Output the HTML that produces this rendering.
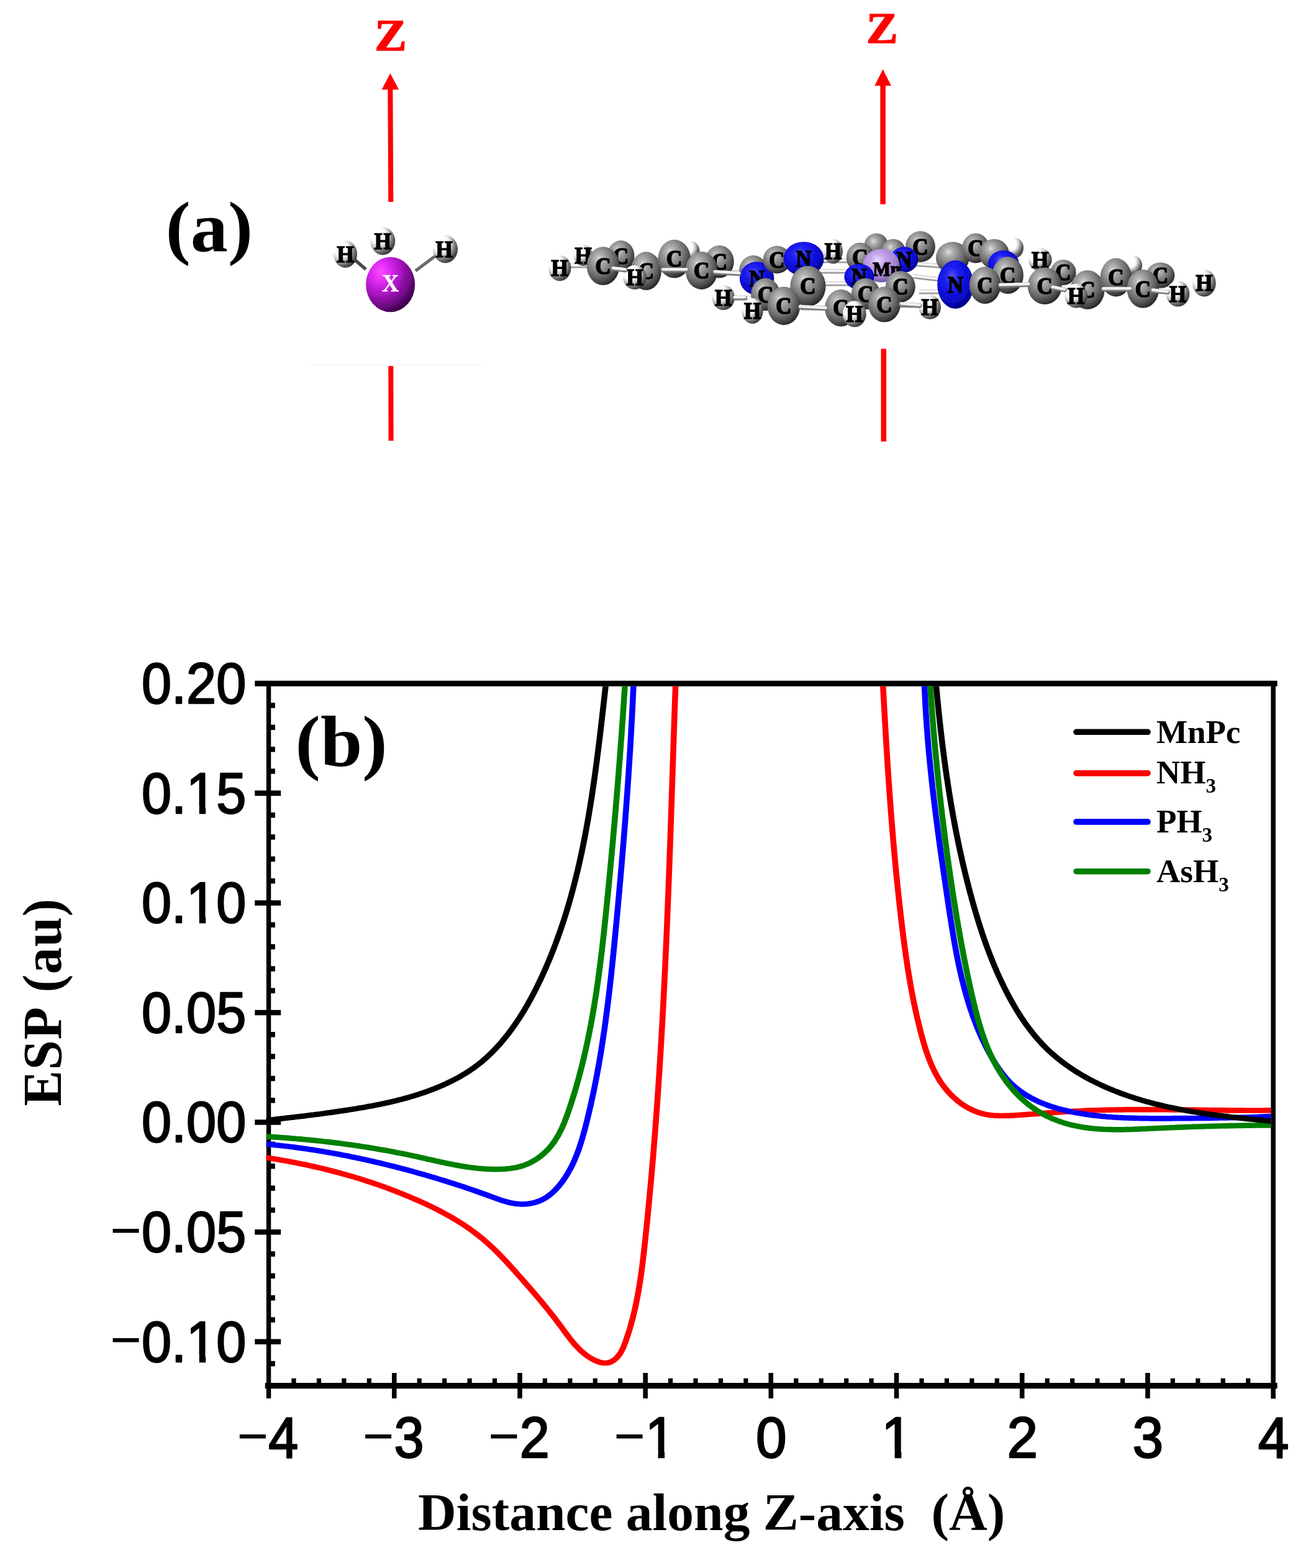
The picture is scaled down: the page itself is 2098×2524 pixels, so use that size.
<!DOCTYPE html>
<html lang="en"><head><meta charset="utf-8"><title>ESP along Z-axis</title>
<style>html,body{margin:0;padding:0;background:#fff}body{width:2098px;height:2524px;overflow:hidden}svg{display:block}.ser{font-family:"Liberation Serif",serif;font-weight:bold}.san{font-family:"Liberation Sans",sans-serif}</style></head><body>
<svg width="2098" height="2524" viewBox="0 0 2098 2524" role="img" aria-label="Electrostatic potential along the Z-axis">
<defs>
<radialGradient id="gC" cx="0.38" cy="0.32" r="0.72" fx="0.38" fy="0.32"><stop offset="0" stop-color="#e2e2e2"/><stop offset="0.16" stop-color="#b4b4b4"/><stop offset="0.42" stop-color="#8a8a8a"/><stop offset="0.68" stop-color="#626262"/><stop offset="0.88" stop-color="#3c3c3c"/><stop offset="1" stop-color="#1c1c1c"/></radialGradient>
<radialGradient id="gH" cx="0.32" cy="0.30" r="0.78" fx="0.32" fy="0.30"><stop offset="0" stop-color="#ffffff"/><stop offset="0.38" stop-color="#fdfdfd"/><stop offset="0.56" stop-color="#c6c6c6"/><stop offset="0.72" stop-color="#7c7c7c"/><stop offset="0.88" stop-color="#4a4a4a"/><stop offset="1" stop-color="#303030"/></radialGradient>
<radialGradient id="gN" cx="0.40" cy="0.34" r="0.70" fx="0.40" fy="0.34"><stop offset="0" stop-color="#5c5cff"/><stop offset="0.25" stop-color="#2222f4"/><stop offset="0.6" stop-color="#0c0cdc"/><stop offset="0.85" stop-color="#0505a8"/><stop offset="1" stop-color="#000070"/></radialGradient>
<radialGradient id="gMn" cx="0.40" cy="0.34" r="0.70" fx="0.40" fy="0.34"><stop offset="0" stop-color="#ead8ff"/><stop offset="0.3" stop-color="#c4a4ea"/><stop offset="0.7" stop-color="#a482d4"/><stop offset="1" stop-color="#6c4c9c"/></radialGradient>
<radialGradient id="gX" cx="0.30" cy="0.27" r="0.80" fx="0.30" fy="0.27"><stop offset="0" stop-color="#f64cff"/><stop offset="0.22" stop-color="#e22cf4"/><stop offset="0.48" stop-color="#b016c8"/><stop offset="0.74" stop-color="#780a8c"/><stop offset="1" stop-color="#360040"/></radialGradient>
<clipPath id="plot"><rect x="428.6" y="1104.6" width="1617.8" height="1121"/></clipPath>
<filter id="soft" x="-5%" y="-5%" width="110%" height="110%"><feGaussianBlur stdDeviation="0.7"/></filter>
<filter id="scan" filterUnits="userSpaceOnUse" x="0" y="0" width="2098" height="2524"><feGaussianBlur stdDeviation="0.75"/></filter>
</defs>
<g id="figure" filter="url(#scan)">
<rect width="2098" height="2524" fill="#ffffff"/>
<g id="panel-a">
<text class="ser" transform="translate(266.8,403.8) scale(1.06,1)" font-size="113.5" fill="#000">(a)</text>
<line x1="628.4" y1="143.3" x2="629.3" y2="324.9" stroke="#ff0000" stroke-width="8.0"/>
<polygon points="628.4,118.0 614.6,144.3 642.2,144.3" fill="#ff0000"/>
<line x1="1421.6" y1="137.1" x2="1421.6" y2="328.8" stroke="#ff0000" stroke-width="8.5"/>
<polygon points="1421.6,111.6 1408.3,138.1 1434.9,138.1" fill="#ff0000"/>
<line x1="500" y1="587.5" x2="776" y2="587.5" stroke="#f6f6f6" stroke-width="2"/>
<line x1="629.3" y1="589.3" x2="629.6" y2="709.6" stroke="#ff0000" stroke-width="8"/>
<line x1="1422.8" y1="561.4" x2="1422.8" y2="710.8" stroke="#ff0000" stroke-width="8.5"/>
<text class="ser" transform="translate(629.1,80.6) scale(1.09,1)" font-size="71" fill="#ff0000" stroke="#ff0000" stroke-width="1.5" text-anchor="middle">Z</text>
<text class="ser" transform="translate(1420.4,69.2) scale(1.10,1)" font-size="69" fill="#ff0000" stroke="#ff0000" stroke-width="1.5" text-anchor="middle">Z</text>
<g id="xh3" filter="url(#soft)">
<line x1="571" y1="418" x2="589" y2="433.5" stroke="#4a4a4a" stroke-width="5.5"/>
<line x1="669" y1="436" x2="703" y2="410.5" stroke="#686868" stroke-width="5"/>
<ellipse cx="556.0" cy="409.0" rx="19.0" ry="22.0" fill="url(#gH)"/>
<text class="ser" transform="translate(556.0,421.6) scale(1,1.08)" font-size="35" fill="#000" stroke="#000" stroke-width="1.6" text-anchor="middle">H</text>
<ellipse cx="616.3" cy="388.0" rx="20.0" ry="22.4" fill="url(#gH)"/>
<text class="ser" transform="translate(616.3,400.6) scale(1,1.08)" font-size="35" fill="#000" stroke="#000" stroke-width="1.6" text-anchor="middle">H</text>
<ellipse cx="717.0" cy="401.0" rx="20.0" ry="22.4" fill="url(#gH)"/>
<text class="ser" transform="translate(715.0,413.6) scale(1,1.08)" font-size="35" fill="#000" stroke="#000" stroke-width="1.6" text-anchor="middle">H</text>
<ellipse cx="628.6" cy="458.0" rx="39.5" ry="44.3" fill="url(#gX)"/>
<text class="ser" transform="translate(628.6,468.7) scale(1,1.08)" font-size="38" fill="#fff" stroke="#fff" stroke-width="0.3" text-anchor="middle">X</text>
</g>
<g id="mnpc" filter="url(#soft)">
<line x1="1310" y1="420" x2="1385" y2="420" stroke="#9a9a9a" stroke-width="7"/>
<line x1="1310" y1="419" x2="1385" y2="419" stroke="#f4f4f4" stroke-width="4"/>
<line x1="1310" y1="437" x2="1380" y2="437" stroke="#9a9a9a" stroke-width="7"/>
<line x1="1310" y1="436" x2="1380" y2="436" stroke="#f4f4f4" stroke-width="4"/>
<line x1="1320" y1="457" x2="1385" y2="457" stroke="#9a9a9a" stroke-width="7"/>
<line x1="1320" y1="456" x2="1385" y2="456" stroke="#f4f4f4" stroke-width="4"/>
<line x1="1290" y1="496" x2="1350" y2="496" stroke="#9a9a9a" stroke-width="7"/>
<line x1="1290" y1="495" x2="1350" y2="495" stroke="#f4f4f4" stroke-width="4"/>
<line x1="1470" y1="425" x2="1535" y2="430" stroke="#9a9a9a" stroke-width="7"/>
<line x1="1470" y1="424" x2="1535" y2="429" stroke="#f4f4f4" stroke-width="4"/>
<line x1="1470" y1="445" x2="1530" y2="452" stroke="#9a9a9a" stroke-width="7"/>
<line x1="1470" y1="444" x2="1530" y2="451" stroke="#f4f4f4" stroke-width="4"/>
<line x1="1480" y1="470" x2="1530" y2="470" stroke="#9a9a9a" stroke-width="7"/>
<line x1="1480" y1="469" x2="1530" y2="469" stroke="#f4f4f4" stroke-width="4"/>
<line x1="1120" y1="436" x2="1215" y2="440" stroke="#9a9a9a" stroke-width="7"/>
<line x1="1120" y1="435" x2="1215" y2="439" stroke="#f4f4f4" stroke-width="4"/>
<line x1="1640" y1="458" x2="1690" y2="460" stroke="#9a9a9a" stroke-width="7"/>
<line x1="1640" y1="457" x2="1690" y2="459" stroke="#f4f4f4" stroke-width="4"/>
<line x1="1770" y1="465" x2="1840" y2="465" stroke="#9a9a9a" stroke-width="7"/>
<line x1="1770" y1="464" x2="1840" y2="464" stroke="#f4f4f4" stroke-width="4"/>
<line x1="1050" y1="435" x2="1090" y2="433" stroke="#9a9a9a" stroke-width="7"/>
<line x1="1050" y1="434" x2="1090" y2="432" stroke="#f4f4f4" stroke-width="4"/>
<line x1="905" y1="428" x2="960" y2="428" stroke="#9a9a9a" stroke-width="7"/>
<line x1="905" y1="427" x2="960" y2="427" stroke="#f4f4f4" stroke-width="4"/>
<line x1="1180" y1="480" x2="1215" y2="480" stroke="#9a9a9a" stroke-width="7"/>
<line x1="1180" y1="479" x2="1215" y2="479" stroke="#f4f4f4" stroke-width="4"/>
<line x1="1445" y1="492" x2="1490" y2="492" stroke="#9a9a9a" stroke-width="7"/>
<line x1="1445" y1="491" x2="1490" y2="491" stroke="#f4f4f4" stroke-width="4"/>
<ellipse cx="901.2" cy="431.6" rx="18.3" ry="20.6" fill="url(#gH)"/>
<text class="ser" transform="translate(901.2,444.2) scale(1,1.08)" font-size="35" fill="#000" stroke="#000" stroke-width="1.6" text-anchor="middle">H</text>
<ellipse cx="939.0" cy="411.0" rx="15.0" ry="17.0" fill="url(#gH)"/>
<text class="ser" transform="translate(939.0,423.6) scale(1,1.08)" font-size="35" fill="#000" stroke="#000" stroke-width="1.6" text-anchor="middle">H</text>
<ellipse cx="999.7" cy="412.0" rx="21.8" ry="25.0" fill="url(#gC)"/>
<text class="ser" transform="translate(999.7,424.6) scale(1,1.08)" font-size="35" fill="#000" stroke="#000" stroke-width="1.6" text-anchor="middle">C</text>
<ellipse cx="971.1" cy="428.2" rx="26.3" ry="30.9" fill="url(#gC)"/>
<text class="ser" transform="translate(971.1,440.8) scale(1,1.08)" font-size="35" fill="#000" stroke="#000" stroke-width="1.6" text-anchor="middle">C</text>
<ellipse cx="1040.3" cy="436.2" rx="24.6" ry="30.9" fill="url(#gC)"/>
<text class="ser" transform="translate(1040.3,448.8) scale(1,1.08)" font-size="35" fill="#000" stroke="#000" stroke-width="1.6" text-anchor="middle">C</text>
<ellipse cx="1022.0" cy="446.5" rx="18.9" ry="19.5" fill="url(#gH)"/>
<text class="ser" transform="translate(1022.0,459.1) scale(1,1.08)" font-size="35" fill="#000" stroke="#000" stroke-width="1.6" text-anchor="middle">H</text>
<ellipse cx="1112.0" cy="404.0" rx="14.5" ry="16.0" fill="url(#gH)"/>
<ellipse cx="1085.7" cy="416.7" rx="26.3" ry="30.9" fill="url(#gC)"/>
<text class="ser" transform="translate(1085.7,429.3) scale(1,1.08)" font-size="35" fill="#000" stroke="#000" stroke-width="1.6" text-anchor="middle">C</text>
<ellipse cx="1158.3" cy="421.3" rx="23.5" ry="26.3" fill="url(#gC)"/>
<text class="ser" transform="translate(1158.3,433.9) scale(1,1.08)" font-size="35" fill="#000" stroke="#000" stroke-width="1.6" text-anchor="middle">C</text>
<ellipse cx="1129.6" cy="435.5" rx="25.8" ry="30.4" fill="url(#gC)"/>
<text class="ser" transform="translate(1129.6,448.1) scale(1,1.08)" font-size="35" fill="#000" stroke="#000" stroke-width="1.6" text-anchor="middle">C</text>
<ellipse cx="1164.7" cy="479.0" rx="18.3" ry="20.0" fill="url(#gH)"/>
<text class="ser" transform="translate(1164.7,491.6) scale(1,1.08)" font-size="35" fill="#000" stroke="#000" stroke-width="1.6" text-anchor="middle">H</text>
<ellipse cx="1213.0" cy="436.0" rx="23.0" ry="25.0" fill="url(#gC)"/>
<ellipse cx="1218.6" cy="448.1" rx="27.7" ry="26.9" fill="url(#gN)"/>
<text class="ser" transform="translate(1218.6,460.7) scale(1,1.08)" font-size="35" fill="#000" stroke="#000" stroke-width="1.6" text-anchor="middle">N</text>
<ellipse cx="1251.0" cy="418.0" rx="22.3" ry="22.3" fill="url(#gC)"/>
<text class="ser" transform="translate(1251.0,430.6) scale(1,1.08)" font-size="35" fill="#000" stroke="#000" stroke-width="1.6" text-anchor="middle">C</text>
<ellipse cx="1294.0" cy="416.7" rx="32.6" ry="27.5" fill="url(#gN)"/>
<text class="ser" transform="translate(1294.0,429.3) scale(1,1.08)" font-size="35" fill="#000" stroke="#000" stroke-width="1.6" text-anchor="middle">N</text>
<ellipse cx="1341.4" cy="404.6" rx="15.5" ry="20.0" fill="url(#gH)"/>
<text class="ser" transform="translate(1341.4,417.2) scale(1,1.08)" font-size="35" fill="#000" stroke="#000" stroke-width="1.6" text-anchor="middle">H</text>
<ellipse cx="1232.6" cy="474.0" rx="23.5" ry="26.3" fill="url(#gC)"/>
<text class="ser" transform="translate(1232.6,486.6) scale(1,1.08)" font-size="35" fill="#000" stroke="#000" stroke-width="1.6" text-anchor="middle">C</text>
<ellipse cx="1211.5" cy="500.4" rx="17.2" ry="20.6" fill="url(#gH)"/>
<text class="ser" transform="translate(1211.5,513.0) scale(1,1.08)" font-size="35" fill="#000" stroke="#000" stroke-width="1.6" text-anchor="middle">H</text>
<ellipse cx="1300.9" cy="460.7" rx="28.6" ry="32.6" fill="url(#gC)"/>
<text class="ser" transform="translate(1300.9,473.3) scale(1,1.08)" font-size="35" fill="#000" stroke="#000" stroke-width="1.6" text-anchor="middle">C</text>
<ellipse cx="1262.0" cy="492.3" rx="26.3" ry="30.9" fill="url(#gC)"/>
<text class="ser" transform="translate(1262.0,504.9) scale(1,1.08)" font-size="35" fill="#000" stroke="#000" stroke-width="1.6" text-anchor="middle">C</text>
<ellipse cx="1410.9" cy="395.5" rx="19.5" ry="20.0" fill="url(#gC)"/>
<ellipse cx="1385.0" cy="414.4" rx="22.3" ry="24.0" fill="url(#gC)"/>
<text class="ser" transform="translate(1385.0,427.0) scale(1,1.08)" font-size="35" fill="#000" stroke="#000" stroke-width="1.6" text-anchor="middle">C</text>
<ellipse cx="1438.4" cy="404.7" rx="19.5" ry="20.0" fill="url(#gC)"/>
<ellipse cx="1481.9" cy="397.0" rx="24.0" ry="25.0" fill="url(#gC)"/>
<text class="ser" transform="translate(1481.9,409.6) scale(1,1.08)" font-size="35" fill="#000" stroke="#000" stroke-width="1.6" text-anchor="middle">C</text>
<ellipse cx="1456.0" cy="417.9" rx="22.3" ry="20.6" fill="url(#gN)"/>
<text class="ser" transform="translate(1456.0,430.5) scale(1,1.08)" font-size="35" fill="#000" stroke="#000" stroke-width="1.6" text-anchor="middle">N</text>
<ellipse cx="1418.9" cy="427.6" rx="29.8" ry="26.9" fill="url(#gMn)"/>
<text class="ser" transform="translate(1427.9,444.4) scale(1,1.08)" font-size="30" fill="#000" stroke="#000" stroke-width="1.6" text-anchor="middle">Mn</text>
<ellipse cx="1383.4" cy="445.4" rx="24.0" ry="20.6" fill="url(#gN)"/>
<text class="ser" transform="translate(1383.4,458.0) scale(1,1.08)" font-size="35" fill="#000" stroke="#000" stroke-width="1.6" text-anchor="middle">N</text>
<ellipse cx="1449.8" cy="461.4" rx="24.0" ry="25.2" fill="url(#gC)"/>
<text class="ser" transform="translate(1449.8,474.0) scale(1,1.08)" font-size="35" fill="#000" stroke="#000" stroke-width="1.6" text-anchor="middle">C</text>
<ellipse cx="1393.7" cy="472.9" rx="22.9" ry="25.2" fill="url(#gC)"/>
<text class="ser" transform="translate(1393.7,485.5) scale(1,1.08)" font-size="35" fill="#000" stroke="#000" stroke-width="1.6" text-anchor="middle">C</text>
<ellipse cx="1354.0" cy="495.8" rx="25.8" ry="29.8" fill="url(#gC)"/>
<text class="ser" transform="translate(1354.0,508.4) scale(1,1.08)" font-size="35" fill="#000" stroke="#000" stroke-width="1.6" text-anchor="middle">C</text>
<ellipse cx="1423.9" cy="490.0" rx="25.8" ry="28.6" fill="url(#gC)"/>
<text class="ser" transform="translate(1423.9,502.6) scale(1,1.08)" font-size="35" fill="#000" stroke="#000" stroke-width="1.6" text-anchor="middle">C</text>
<ellipse cx="1375.8" cy="505.4" rx="18.9" ry="21.2" fill="url(#gH)"/>
<text class="ser" transform="translate(1375.8,518.0) scale(1,1.08)" font-size="35" fill="#000" stroke="#000" stroke-width="1.6" text-anchor="middle">H</text>
<ellipse cx="1497.2" cy="494.6" rx="17.8" ry="19.5" fill="url(#gH)"/>
<text class="ser" transform="translate(1497.2,507.2) scale(1,1.08)" font-size="35" fill="#000" stroke="#000" stroke-width="1.6" text-anchor="middle">H</text>
<ellipse cx="1533.8" cy="415.0" rx="26.9" ry="25.8" fill="url(#gC)"/>
<ellipse cx="1538.4" cy="458.0" rx="29.2" ry="39.0" fill="url(#gN)"/>
<text class="ser" transform="translate(1538.4,470.6) scale(1,1.08)" font-size="35" fill="#000" stroke="#000" stroke-width="1.6" text-anchor="middle">N</text>
<ellipse cx="1571.0" cy="399.5" rx="21.8" ry="24.0" fill="url(#gC)"/>
<text class="ser" transform="translate(1571.0,412.1) scale(1,1.08)" font-size="35" fill="#000" stroke="#000" stroke-width="1.6" text-anchor="middle">C</text>
<ellipse cx="1633.0" cy="399.0" rx="15.0" ry="16.5" fill="url(#gH)"/>
<ellipse cx="1600.9" cy="408.7" rx="24.0" ry="24.0" fill="url(#gC)"/>
<ellipse cx="1615.8" cy="425.0" rx="25.0" ry="22.0" fill="url(#gN)"/>
<ellipse cx="1622.7" cy="443.1" rx="25.2" ry="29.8" fill="url(#gC)"/>
<text class="ser" transform="translate(1622.7,455.7) scale(1,1.08)" font-size="35" fill="#000" stroke="#000" stroke-width="1.6" text-anchor="middle">C</text>
<ellipse cx="1586.0" cy="459.1" rx="25.2" ry="29.8" fill="url(#gC)"/>
<text class="ser" transform="translate(1586.0,471.7) scale(1,1.08)" font-size="35" fill="#000" stroke="#000" stroke-width="1.6" text-anchor="middle">C</text>
<ellipse cx="1674.7" cy="417.9" rx="18.9" ry="18.3" fill="url(#gH)"/>
<text class="ser" transform="translate(1674.7,430.5) scale(1,1.08)" font-size="35" fill="#000" stroke="#000" stroke-width="1.6" text-anchor="middle">H</text>
<ellipse cx="1712.0" cy="438.5" rx="20.6" ry="20.6" fill="url(#gC)"/>
<text class="ser" transform="translate(1712.0,451.1) scale(1,1.08)" font-size="35" fill="#000" stroke="#000" stroke-width="1.6" text-anchor="middle">C</text>
<ellipse cx="1682.2" cy="460.3" rx="27.5" ry="29.8" fill="url(#gC)"/>
<text class="ser" transform="translate(1682.2,472.9) scale(1,1.08)" font-size="35" fill="#000" stroke="#000" stroke-width="1.6" text-anchor="middle">C</text>
<ellipse cx="1751.0" cy="466.5" rx="27.5" ry="31.5" fill="url(#gC)"/>
<text class="ser" transform="translate(1751.0,479.1) scale(1,1.08)" font-size="35" fill="#000" stroke="#000" stroke-width="1.6" text-anchor="middle">C</text>
<ellipse cx="1732.6" cy="476.3" rx="18.3" ry="19.5" fill="url(#gH)"/>
<text class="ser" transform="translate(1732.6,488.9) scale(1,1.08)" font-size="35" fill="#000" stroke="#000" stroke-width="1.6" text-anchor="middle">H</text>
<ellipse cx="1825.0" cy="427.0" rx="14.0" ry="15.5" fill="url(#gH)"/>
<ellipse cx="1796.8" cy="446.5" rx="25.2" ry="30.9" fill="url(#gC)"/>
<text class="ser" transform="translate(1796.8,459.1) scale(1,1.08)" font-size="35" fill="#000" stroke="#000" stroke-width="1.6" text-anchor="middle">C</text>
<ellipse cx="1868.5" cy="443.1" rx="22.9" ry="20.6" fill="url(#gC)"/>
<text class="ser" transform="translate(1868.5,455.7) scale(1,1.08)" font-size="35" fill="#000" stroke="#000" stroke-width="1.6" text-anchor="middle">C</text>
<ellipse cx="1840.3" cy="464.9" rx="25.8" ry="30.9" fill="url(#gC)"/>
<text class="ser" transform="translate(1840.3,477.5) scale(1,1.08)" font-size="35" fill="#000" stroke="#000" stroke-width="1.6" text-anchor="middle">C</text>
<ellipse cx="1896.4" cy="472.9" rx="18.9" ry="20.6" fill="url(#gH)"/>
<text class="ser" transform="translate(1896.4,485.5) scale(1,1.08)" font-size="35" fill="#000" stroke="#000" stroke-width="1.6" text-anchor="middle">H</text>
<ellipse cx="1938.8" cy="455.7" rx="18.9" ry="21.8" fill="url(#gH)"/>
<text class="ser" transform="translate(1938.8,468.3) scale(1,1.08)" font-size="35" fill="#000" stroke="#000" stroke-width="1.6" text-anchor="middle">H</text>
<line x1="1610.5" y1="459.4" x2="1656.2" y2="458.2" stroke="#7a7a7a" stroke-width="7.5" stroke-linecap="round"/>
<line x1="1610.5" y1="458.2" x2="1656.2" y2="457.0" stroke="#f2f2f2" stroke-width="4.6" stroke-linecap="round"/>
<line x1="1694.7" y1="463.0" x2="1714.0" y2="466.6" stroke="#7a7a7a" stroke-width="7.5" stroke-linecap="round"/>
<line x1="1694.7" y1="461.8" x2="1714.0" y2="465.4" stroke="#f2f2f2" stroke-width="4.6" stroke-linecap="round"/>
<line x1="1776.5" y1="465.4" x2="1819.8" y2="465.4" stroke="#7a7a7a" stroke-width="7.5" stroke-linecap="round"/>
<line x1="1776.5" y1="464.2" x2="1819.8" y2="464.2" stroke="#f2f2f2" stroke-width="4.6" stroke-linecap="round"/>
<line x1="1855.9" y1="467.8" x2="1880.0" y2="470.3" stroke="#7a7a7a" stroke-width="7.5" stroke-linecap="round"/>
<line x1="1855.9" y1="466.6" x2="1880.0" y2="469.1" stroke="#f2f2f2" stroke-width="4.6" stroke-linecap="round"/>
<line x1="987.1" y1="432.4" x2="1006.6" y2="434.7" stroke="#7a7a7a" stroke-width="7.5" stroke-linecap="round"/>
<line x1="987.1" y1="431.2" x2="1006.6" y2="433.5" stroke="#f2f2f2" stroke-width="4.6" stroke-linecap="round"/>
<line x1="1067.3" y1="434.7" x2="1105.1" y2="434.7" stroke="#7a7a7a" stroke-width="7.5" stroke-linecap="round"/>
<line x1="1067.3" y1="433.5" x2="1105.1" y2="433.5" stroke="#f2f2f2" stroke-width="4.6" stroke-linecap="round"/>
<line x1="1151.0" y1="438.2" x2="1189.9" y2="440.5" stroke="#7a7a7a" stroke-width="7.5" stroke-linecap="round"/>
<line x1="1151.0" y1="437.0" x2="1189.9" y2="439.3" stroke="#f2f2f2" stroke-width="4.6" stroke-linecap="round"/>
<line x1="1183.0" y1="479.4" x2="1199.0" y2="479.4" stroke="#7a7a7a" stroke-width="7.5" stroke-linecap="round"/>
<line x1="1183.0" y1="478.2" x2="1199.0" y2="478.2" stroke="#f2f2f2" stroke-width="4.6" stroke-linecap="round"/>
<line x1="1288.3" y1="494.3" x2="1329.5" y2="496.6" stroke="#7a7a7a" stroke-width="7.5" stroke-linecap="round"/>
<line x1="1288.3" y1="493.1" x2="1329.5" y2="495.4" stroke="#f2f2f2" stroke-width="4.6" stroke-linecap="round"/>
<line x1="1451.0" y1="489.7" x2="1480.7" y2="492.0" stroke="#7a7a7a" stroke-width="7.5" stroke-linecap="round"/>
<line x1="1451.0" y1="488.5" x2="1480.7" y2="490.8" stroke="#f2f2f2" stroke-width="4.6" stroke-linecap="round"/>
</g>
</g>
<g id="panel-b">
<g stroke="#000" fill="none">
<line x1="410.3" y1="1100.2" x2="2056.6" y2="1100.2" stroke-width="9"/>
<line x1="426.8" y1="2230.6" x2="2056.6" y2="2230.6" stroke-width="9.3"/>
<line x1="432.6" y1="1100.2" x2="432.6" y2="2251" stroke-width="7.4"/>
<line x1="2050.1" y1="1100.2" x2="2050.1" y2="2251.4" stroke-width="7.6"/>
<line x1="432.6" y1="2195.1" x2="442.9" y2="2195.1" stroke-width="8.5"/>
<line x1="410.3" y1="2159.8" x2="452.2" y2="2159.8" stroke-width="8.5"/>
<line x1="432.6" y1="2124.5" x2="442.9" y2="2124.5" stroke-width="8.5"/>
<line x1="432.6" y1="2089.2" x2="442.9" y2="2089.2" stroke-width="8.5"/>
<line x1="432.6" y1="2053.8" x2="442.9" y2="2053.8" stroke-width="8.5"/>
<line x1="432.6" y1="2018.5" x2="442.9" y2="2018.5" stroke-width="8.5"/>
<line x1="410.3" y1="1983.2" x2="452.2" y2="1983.2" stroke-width="8.5"/>
<line x1="432.6" y1="1947.9" x2="442.9" y2="1947.9" stroke-width="8.5"/>
<line x1="432.6" y1="1912.6" x2="442.9" y2="1912.6" stroke-width="8.5"/>
<line x1="432.6" y1="1877.2" x2="442.9" y2="1877.2" stroke-width="8.5"/>
<line x1="432.6" y1="1841.9" x2="442.9" y2="1841.9" stroke-width="8.5"/>
<line x1="410.3" y1="1806.6" x2="452.2" y2="1806.6" stroke-width="8.5"/>
<line x1="432.6" y1="1771.3" x2="442.9" y2="1771.3" stroke-width="8.5"/>
<line x1="432.6" y1="1736.0" x2="442.9" y2="1736.0" stroke-width="8.5"/>
<line x1="432.6" y1="1700.6" x2="442.9" y2="1700.6" stroke-width="8.5"/>
<line x1="432.6" y1="1665.3" x2="442.9" y2="1665.3" stroke-width="8.5"/>
<line x1="410.3" y1="1630.0" x2="452.2" y2="1630.0" stroke-width="8.5"/>
<line x1="432.6" y1="1594.7" x2="442.9" y2="1594.7" stroke-width="8.5"/>
<line x1="432.6" y1="1559.4" x2="442.9" y2="1559.4" stroke-width="8.5"/>
<line x1="432.6" y1="1524.0" x2="442.9" y2="1524.0" stroke-width="8.5"/>
<line x1="432.6" y1="1488.7" x2="442.9" y2="1488.7" stroke-width="8.5"/>
<line x1="410.3" y1="1453.4" x2="452.2" y2="1453.4" stroke-width="8.5"/>
<line x1="432.6" y1="1418.1" x2="442.9" y2="1418.1" stroke-width="8.5"/>
<line x1="432.6" y1="1382.8" x2="442.9" y2="1382.8" stroke-width="8.5"/>
<line x1="432.6" y1="1347.4" x2="442.9" y2="1347.4" stroke-width="8.5"/>
<line x1="432.6" y1="1312.1" x2="442.9" y2="1312.1" stroke-width="8.5"/>
<line x1="410.3" y1="1276.8" x2="452.2" y2="1276.8" stroke-width="8.5"/>
<line x1="432.6" y1="1241.5" x2="442.9" y2="1241.5" stroke-width="8.5"/>
<line x1="432.6" y1="1206.2" x2="442.9" y2="1206.2" stroke-width="8.5"/>
<line x1="432.6" y1="1170.8" x2="442.9" y2="1170.8" stroke-width="8.5"/>
<line x1="432.6" y1="1135.5" x2="442.9" y2="1135.5" stroke-width="8.5"/>
<line x1="473.0" y1="2218.7" x2="473.0" y2="2230.6" stroke-width="7.2"/>
<line x1="513.5" y1="2218.7" x2="513.5" y2="2230.6" stroke-width="7.2"/>
<line x1="553.9" y1="2218.7" x2="553.9" y2="2230.6" stroke-width="7.2"/>
<line x1="594.4" y1="2218.7" x2="594.4" y2="2230.6" stroke-width="7.2"/>
<line x1="634.8" y1="2210" x2="634.8" y2="2251" stroke-width="7.6"/>
<line x1="675.2" y1="2218.7" x2="675.2" y2="2230.6" stroke-width="7.2"/>
<line x1="715.7" y1="2218.7" x2="715.7" y2="2230.6" stroke-width="7.2"/>
<line x1="756.1" y1="2218.7" x2="756.1" y2="2230.6" stroke-width="7.2"/>
<line x1="796.5" y1="2218.7" x2="796.5" y2="2230.6" stroke-width="7.2"/>
<line x1="837.0" y1="2210" x2="837.0" y2="2251" stroke-width="7.6"/>
<line x1="877.4" y1="2218.7" x2="877.4" y2="2230.6" stroke-width="7.2"/>
<line x1="917.9" y1="2218.7" x2="917.9" y2="2230.6" stroke-width="7.2"/>
<line x1="958.3" y1="2218.7" x2="958.3" y2="2230.6" stroke-width="7.2"/>
<line x1="998.7" y1="2218.7" x2="998.7" y2="2230.6" stroke-width="7.2"/>
<line x1="1039.2" y1="2210" x2="1039.2" y2="2251" stroke-width="7.6"/>
<line x1="1079.6" y1="2218.7" x2="1079.6" y2="2230.6" stroke-width="7.2"/>
<line x1="1120.0" y1="2218.7" x2="1120.0" y2="2230.6" stroke-width="7.2"/>
<line x1="1160.5" y1="2218.7" x2="1160.5" y2="2230.6" stroke-width="7.2"/>
<line x1="1200.9" y1="2218.7" x2="1200.9" y2="2230.6" stroke-width="7.2"/>
<line x1="1241.3" y1="2210" x2="1241.3" y2="2251" stroke-width="7.6"/>
<line x1="1281.8" y1="2218.7" x2="1281.8" y2="2230.6" stroke-width="7.2"/>
<line x1="1322.2" y1="2218.7" x2="1322.2" y2="2230.6" stroke-width="7.2"/>
<line x1="1362.7" y1="2218.7" x2="1362.7" y2="2230.6" stroke-width="7.2"/>
<line x1="1403.1" y1="2218.7" x2="1403.1" y2="2230.6" stroke-width="7.2"/>
<line x1="1443.5" y1="2210" x2="1443.5" y2="2251" stroke-width="7.6"/>
<line x1="1484.0" y1="2218.7" x2="1484.0" y2="2230.6" stroke-width="7.2"/>
<line x1="1524.4" y1="2218.7" x2="1524.4" y2="2230.6" stroke-width="7.2"/>
<line x1="1564.8" y1="2218.7" x2="1564.8" y2="2230.6" stroke-width="7.2"/>
<line x1="1605.3" y1="2218.7" x2="1605.3" y2="2230.6" stroke-width="7.2"/>
<line x1="1645.7" y1="2210" x2="1645.7" y2="2251" stroke-width="7.6"/>
<line x1="1686.2" y1="2218.7" x2="1686.2" y2="2230.6" stroke-width="7.2"/>
<line x1="1726.6" y1="2218.7" x2="1726.6" y2="2230.6" stroke-width="7.2"/>
<line x1="1767.0" y1="2218.7" x2="1767.0" y2="2230.6" stroke-width="7.2"/>
<line x1="1807.5" y1="2218.7" x2="1807.5" y2="2230.6" stroke-width="7.2"/>
<line x1="1847.9" y1="2210" x2="1847.9" y2="2251" stroke-width="7.6"/>
<line x1="1888.3" y1="2218.7" x2="1888.3" y2="2230.6" stroke-width="7.2"/>
<line x1="1928.8" y1="2218.7" x2="1928.8" y2="2230.6" stroke-width="7.2"/>
<line x1="1969.2" y1="2218.7" x2="1969.2" y2="2230.6" stroke-width="7.2"/>
<line x1="2009.7" y1="2218.7" x2="2009.7" y2="2230.6" stroke-width="7.2"/>
</g>
<g clip-path="url(#plot)"><g transform="scale(1.100,1)" fill="none" stroke-width="8.7" stroke-linejoin="round">
<path d="M384.05,1862.4 L389.44,1863.3 L394.83,1864.3 L400.20,1865.2 L405.58,1866.2 L410.95,1867.2 L416.31,1868.2 L421.66,1869.3 L427.01,1870.4 L432.36,1871.5 L437.69,1872.7 L443.02,1873.9 L448.35,1875.1 L453.66,1876.4 L458.97,1877.7 L464.27,1879.0 L469.56,1880.4 L474.85,1881.8 L480.12,1883.2 L485.39,1884.7 L490.65,1886.2 L495.90,1887.7 L501.14,1889.3 L506.37,1890.9 L511.60,1892.6 L516.81,1894.2 L522.01,1896.0 L527.21,1897.7 L532.39,1899.5 L537.56,1901.3 L542.72,1903.2 L547.87,1905.1 L553.01,1907.0 L558.14,1909.0 L563.26,1911.0 L568.36,1913.1 L573.46,1915.2 L578.54,1917.3 L583.61,1919.5 L588.66,1921.7 L593.71,1923.9 L598.74,1926.2 L603.76,1928.6 L608.76,1931.0 L613.75,1933.4 L618.72,1935.8 L623.68,1938.4 L628.61,1940.9 L633.51,1943.5 L638.39,1946.2 L643.24,1948.9 L648.06,1951.7 L652.85,1954.6 L657.60,1957.5 L662.31,1960.5 L666.98,1963.5 L671.61,1966.6 L676.19,1969.8 L680.73,1973.1 L685.21,1976.5 L689.64,1979.9 L694.02,1983.4 L698.33,1987.1 L702.59,1990.8 L706.79,1994.6 L710.92,1998.4 L714.99,2002.4 L719.00,2006.5 L722.96,2010.6 L726.87,2014.8 L730.74,2019.0 L734.55,2023.4 L738.33,2027.7 L742.07,2032.1 L745.78,2036.5 L749.45,2041.0 L753.10,2045.4 L756.73,2049.9 L760.33,2054.4 L763.92,2058.8 L767.49,2063.3 L771.05,2067.8 L774.59,2072.2 L778.12,2076.7 L781.63,2081.2 L785.12,2085.7 L788.60,2090.2 L792.06,2094.7 L795.50,2099.3 L798.92,2103.9 L802.33,2108.5 L805.71,2113.2 L809.08,2117.9 L812.43,2122.6 L815.76,2127.4 L819.07,2132.2 L822.37,2137.1 L825.66,2142.1 L828.97,2147.0 L832.32,2151.9 L835.74,2156.7 L839.24,2161.4 L842.86,2165.9 L846.60,2170.3 L850.49,2174.5 L854.56,2178.4 L858.83,2182.0 L863.31,2185.4 L868.03,2188.3 L873.00,2190.9 L878.15,2192.9 L883.35,2194.0 L888.46,2194.0 L893.34,2192.7 L897.85,2190.1 L901.94,2186.5 L905.56,2182.1 L908.68,2177.0 L911.27,2171.7 L913.45,2166.1 L915.39,2160.4 L917.22,2154.6 L918.97,2148.9 L920.64,2143.1 L922.23,2137.4 L923.74,2131.6 L925.18,2125.8 L926.55,2120.0 L927.86,2114.2 L929.10,2108.3 L930.28,2102.5 L931.40,2096.6 L932.47,2090.8 L933.49,2084.9 L934.45,2079.0 L935.37,2073.1 L936.25,2067.2 L937.08,2061.3 L937.88,2055.4 L938.64,2049.5 L939.37,2043.6 L940.07,2037.7 L940.75,2031.7 L941.40,2025.8 L942.03,2019.9 L942.64,2013.9 L943.24,2008.0 L943.83,2002.0 L944.41,1996.1 L944.98,1990.1 L945.55,1984.2 L946.11,1978.2 L946.66,1972.3 L947.21,1966.3 L947.75,1960.4 L948.29,1954.4 L948.82,1948.5 L949.35,1942.5 L949.87,1936.6 L950.38,1930.6 L950.89,1924.7 L951.40,1918.7 L951.90,1912.8 L952.39,1906.8 L952.88,1900.8 L953.36,1894.9 L953.84,1888.9 L954.32,1883.0 L954.78,1877.0 L955.25,1871.1 L955.71,1865.1 L956.16,1859.1 L956.61,1853.2 L957.05,1847.2 L957.49,1841.3 L957.92,1835.3 L958.35,1829.3 L958.78,1823.4 L959.20,1817.4 L959.61,1811.4 L960.02,1805.5 L960.43,1799.5 L960.83,1793.5 L961.23,1787.6 L961.62,1781.6 L962.01,1775.6 L962.39,1769.7 L962.77,1763.7 L963.14,1757.7 L963.51,1751.8 L963.88,1745.8 L964.24,1739.8 L964.60,1733.9 L964.96,1727.9 L965.31,1721.9 L965.65,1716.0 L966.00,1710.0 L966.33,1704.0 L966.67,1698.1 L967.00,1692.1 L967.33,1686.1 L967.65,1680.1 L967.97,1674.2 L968.28,1668.2 L968.60,1662.2 L968.91,1656.3 L969.21,1650.3 L969.51,1644.3 L969.81,1638.3 L970.11,1632.4 L970.40,1626.4 L970.69,1620.4 L970.97,1614.4 L971.26,1608.5 L971.53,1602.5 L971.81,1596.5 L972.08,1590.6 L972.35,1584.6 L972.62,1578.6 L972.89,1572.6 L973.15,1566.7 L973.41,1560.7 L973.66,1554.7 L973.92,1548.7 L974.17,1542.8 L974.42,1536.8 L974.66,1530.8 L974.91,1524.8 L975.15,1518.9 L975.39,1512.9 L975.62,1506.9 L975.86,1500.9 L976.09,1494.9 L976.32,1489.0 L976.55,1483.0 L976.77,1477.0 L976.99,1471.0 L977.22,1465.1 L977.43,1459.1 L977.65,1453.1 L977.87,1447.1 L978.08,1441.2 L978.29,1435.2 L978.51,1429.2 L978.71,1423.2 L978.92,1417.2 L979.13,1411.3 L979.33,1405.3 L979.53,1399.3 L979.74,1393.3 L979.94,1387.4 L980.13,1381.4 L980.33,1375.4 L980.53,1369.4 L980.72,1363.4 L980.92,1357.5 L981.11,1351.5 L981.30,1345.5 L981.49,1339.5 L981.68,1333.5 L981.87,1327.6 L982.06,1321.6 L982.25,1315.6 L982.43,1309.6 L982.62,1303.7 L982.81,1297.7 L982.99,1291.7 L983.18,1285.7 L983.36,1279.7 L983.54,1273.8 L983.73,1267.8 L983.91,1261.8 L984.09,1255.8 L984.27,1249.9 L984.45,1243.9 L984.64,1237.9 L984.82,1231.9 L985.00,1225.9 L985.18,1220.0 L985.36,1214.0 L985.55,1208.0 L985.73,1202.0 L985.91,1196.0 L986.09,1190.1 L986.27,1184.1 L986.46,1178.1 L986.64,1172.1 L986.82,1166.2 L987.01,1160.2 L987.19,1154.2 L987.38,1148.2 L987.56,1142.3 L987.75,1136.3 L987.94,1130.3 L988.13,1124.3 L988.31,1118.3 L988.50,1112.4 L988.70,1106.4 L988.89,1100.4 L989.08,1094.4" stroke="#ff0000"/>
<path d="M1292.05,1094.6 L1292.25,1098.6 L1292.44,1102.7 L1292.64,1106.7 L1292.84,1110.8 L1293.04,1114.8 L1293.24,1118.9 L1293.44,1123.0 L1293.64,1127.0 L1293.85,1131.1 L1294.05,1135.1 L1294.26,1139.2 L1294.46,1143.3 L1294.67,1147.3 L1294.88,1151.4 L1295.09,1155.4 L1295.30,1159.5 L1295.51,1163.6 L1295.73,1167.6 L1295.94,1171.7 L1296.16,1175.8 L1296.38,1179.8 L1296.60,1183.9 L1296.82,1188.0 L1297.04,1192.1 L1297.26,1196.1 L1297.49,1200.2 L1297.72,1204.3 L1297.95,1208.3 L1298.18,1212.4 L1298.41,1216.5 L1298.65,1220.6 L1298.88,1224.6 L1299.12,1228.7 L1299.36,1232.8 L1299.60,1236.9 L1299.85,1240.9 L1300.09,1245.0 L1300.34,1249.1 L1300.59,1253.2 L1300.85,1257.2 L1301.10,1261.3 L1301.36,1265.4 L1301.62,1269.5 L1301.88,1273.5 L1302.15,1277.6 L1302.41,1281.7 L1302.68,1285.8 L1302.96,1289.9 L1303.23,1293.9 L1303.51,1298.0 L1303.79,1302.1 L1304.07,1306.2 L1304.35,1310.2 L1304.64,1314.3 L1304.93,1318.4 L1305.22,1322.5 L1305.52,1326.5 L1305.82,1330.6 L1306.12,1334.7 L1306.43,1338.8 L1306.73,1342.8 L1307.05,1346.9 L1307.36,1351.0 L1307.68,1355.0 L1308.00,1359.1 L1308.32,1363.2 L1308.65,1367.3 L1308.98,1371.3 L1309.31,1375.4 L1309.65,1379.5 L1309.99,1383.5 L1310.33,1387.6 L1310.68,1391.7 L1311.03,1395.7 L1311.38,1399.8 L1311.74,1403.8 L1312.10,1407.9 L1312.46,1412.0 L1312.83,1416.0 L1313.20,1420.1 L1313.58,1424.1 L1313.96,1428.2 L1314.34,1432.3 L1314.73,1436.3 L1315.12,1440.4 L1315.52,1444.4 L1315.92,1448.5 L1316.32,1452.5 L1316.73,1456.6 L1317.14,1460.6 L1317.56,1464.7 L1317.97,1468.7 L1318.40,1472.7 L1318.83,1476.8 L1319.26,1480.8 L1319.70,1484.9 L1320.14,1488.9 L1320.58,1492.9 L1321.03,1497.0 L1321.49,1501.0 L1321.95,1505.0 L1322.42,1509.1 L1322.89,1513.1 L1323.37,1517.1 L1323.85,1521.1 L1324.35,1525.2 L1324.85,1529.2 L1325.35,1533.2 L1325.87,1537.2 L1326.39,1541.2 L1326.92,1545.3 L1327.47,1549.3 L1328.02,1553.3 L1328.58,1557.3 L1329.15,1561.3 L1329.73,1565.3 L1330.32,1569.4 L1330.93,1573.4 L1331.54,1577.4 L1332.17,1581.4 L1332.81,1585.4 L1333.46,1589.4 L1334.13,1593.4 L1334.80,1597.4 L1335.50,1601.4 L1336.20,1605.4 L1336.92,1609.4 L1337.66,1613.4 L1338.41,1617.4 L1339.17,1621.4 L1339.95,1625.4 L1340.75,1629.4 L1341.56,1633.4 L1342.39,1637.4 L1343.24,1641.4 L1344.10,1645.4 L1344.99,1649.4 L1345.89,1653.4 L1346.81,1657.4 L1347.74,1661.4 L1348.70,1665.4 L1349.68,1669.4 L1350.68,1673.4 L1351.71,1677.4 L1352.78,1681.4 L1353.87,1685.4 L1355.01,1689.3 L1356.18,1693.2 L1357.40,1697.1 L1358.67,1701.0 L1359.98,1704.8 L1361.35,1708.7 L1362.78,1712.5 L1364.26,1716.2 L1365.81,1719.9 L1367.42,1723.6 L1369.10,1727.2 L1370.86,1730.8 L1372.69,1734.3 L1374.59,1737.8 L1376.58,1741.2 L1378.66,1744.5 L1380.82,1747.8 L1383.06,1751.1 L1385.40,1754.2 L1387.81,1757.3 L1390.31,1760.3 L1392.88,1763.2 L1395.54,1766.0 L1398.26,1768.7 L1401.06,1771.4 L1403.93,1773.9 L1406.87,1776.3 L1409.88,1778.6 L1412.95,1780.7 L1416.08,1782.8 L1419.28,1784.7 L1422.53,1786.4 L1425.84,1788.1 L1429.21,1789.5 L1432.63,1790.9 L1436.09,1792.0 L1439.61,1793.0 L1443.18,1793.9 L1446.79,1794.6 L1450.44,1795.1 L1454.12,1795.5 L1457.83,1795.8 L1461.56,1795.9 L1465.32,1796.0 L1469.09,1796.0 L1472.87,1795.9 L1476.66,1795.8 L1480.46,1795.6 L1484.25,1795.4 L1488.03,1795.1 L1491.80,1794.9 L1495.56,1794.6 L1499.32,1794.3 L1503.06,1794.0 L1506.80,1793.7 L1510.53,1793.5 L1514.25,1793.2 L1517.96,1792.9 L1521.67,1792.5 L1525.37,1792.2 L1529.07,1791.9 L1532.76,1791.6 L1536.45,1791.3 L1540.14,1791.0 L1543.82,1790.7 L1547.51,1790.5 L1551.19,1790.2 L1554.87,1789.9 L1558.55,1789.6 L1562.24,1789.4 L1565.92,1789.1 L1569.61,1788.9 L1573.29,1788.7 L1576.98,1788.5 L1580.67,1788.3 L1584.36,1788.1 L1588.05,1787.9 L1591.74,1787.7 L1595.44,1787.6 L1599.13,1787.4 L1602.83,1787.3 L1606.53,1787.2 L1610.23,1787.0 L1613.93,1786.9 L1617.63,1786.8 L1621.33,1786.7 L1625.03,1786.6 L1628.73,1786.5 L1632.44,1786.5 L1636.14,1786.4 L1639.85,1786.3 L1643.56,1786.3 L1647.26,1786.2 L1650.97,1786.2 L1654.68,1786.2 L1658.39,1786.1 L1662.10,1786.1 L1665.81,1786.1 L1669.52,1786.1 L1673.23,1786.1 L1676.94,1786.1 L1680.65,1786.1 L1684.37,1786.1 L1688.08,1786.1 L1691.79,1786.1 L1695.51,1786.1 L1699.22,1786.1 L1702.93,1786.2 L1706.65,1786.2 L1710.36,1786.2 L1714.08,1786.3 L1717.79,1786.3 L1721.51,1786.3 L1725.22,1786.4 L1728.93,1786.4 L1732.65,1786.5 L1736.36,1786.5 L1740.08,1786.6 L1743.79,1786.6 L1747.51,1786.7 L1751.22,1786.7 L1754.93,1786.8 L1758.65,1786.8 L1762.36,1786.9 L1766.07,1786.9 L1769.78,1787.0 L1773.49,1787.0 L1777.21,1787.1 L1780.92,1787.1 L1784.63,1787.1 L1788.34,1787.2 L1792.04,1787.2 L1795.75,1787.3 L1799.46,1787.3 L1803.17,1787.3 L1806.87,1787.4 L1810.58,1787.4 L1814.28,1787.4 L1817.99,1787.4 L1821.69,1787.5 L1825.39,1787.5 L1829.09,1787.5 L1832.79,1787.5 L1836.49,1787.5 L1840.19,1787.5 L1843.89,1787.5 L1847.58,1787.5 L1851.28,1787.4 L1854.97,1787.4 L1858.66,1787.4 L1862.36,1787.3 L1866.05,1787.3 L1869.73,1787.2" stroke="#ff0000"/>
<path d="M384.13,1841.2 L388.14,1841.6 L392.15,1842.0 L396.16,1842.4 L400.17,1842.9 L404.17,1843.3 L408.18,1843.8 L412.19,1844.3 L416.20,1844.8 L420.20,1845.3 L424.21,1845.8 L428.21,1846.3 L432.21,1846.9 L436.21,1847.5 L440.21,1848.1 L444.21,1848.7 L448.21,1849.3 L452.20,1850.0 L456.20,1850.6 L460.19,1851.3 L464.18,1852.0 L468.17,1852.7 L472.16,1853.4 L476.15,1854.2 L480.13,1854.9 L484.11,1855.7 L488.09,1856.5 L492.07,1857.3 L496.05,1858.1 L500.02,1858.9 L504.00,1859.8 L507.97,1860.6 L511.93,1861.5 L515.90,1862.4 L519.86,1863.3 L523.82,1864.2 L527.78,1865.1 L531.74,1866.1 L535.69,1867.0 L539.64,1868.0 L543.59,1869.0 L547.53,1870.0 L551.48,1871.0 L555.41,1872.0 L559.35,1873.0 L563.28,1874.1 L567.21,1875.1 L571.14,1876.2 L575.06,1877.3 L578.98,1878.4 L582.90,1879.5 L586.81,1880.6 L590.72,1881.7 L594.63,1882.9 L598.53,1884.0 L602.43,1885.2 L606.33,1886.4 L610.22,1887.6 L614.11,1888.8 L617.99,1890.0 L621.87,1891.2 L625.75,1892.5 L629.62,1893.7 L633.49,1895.0 L637.35,1896.2 L641.21,1897.5 L645.07,1898.8 L648.92,1900.1 L652.76,1901.4 L656.61,1902.8 L660.44,1904.1 L664.28,1905.4 L668.11,1906.8 L671.93,1908.2 L675.75,1909.5 L679.57,1910.9 L683.39,1912.3 L687.21,1913.8 L691.02,1915.2 L694.84,1916.6 L698.65,1918.1 L702.47,1919.6 L706.29,1921.1 L710.12,1922.6 L713.94,1924.1 L717.77,1925.7 L721.61,1927.2 L725.45,1928.8 L729.30,1930.3 L733.17,1931.8 L737.05,1933.2 L740.95,1934.4 L744.88,1935.6 L748.83,1936.5 L752.81,1937.3 L756.82,1937.9 L760.84,1938.2 L764.88,1938.3 L768.91,1938.2 L772.91,1937.8 L776.88,1937.1 L780.79,1936.2 L784.64,1935.1 L788.40,1933.7 L792.07,1932.0 L795.63,1930.0 L799.07,1927.8 L802.39,1925.4 L805.60,1922.7 L808.69,1919.8 L811.66,1916.7 L814.52,1913.5 L817.26,1910.1 L819.90,1906.6 L822.42,1903.0 L824.83,1899.4 L827.14,1895.7 L829.33,1891.9 L831.43,1888.1 L833.44,1884.2 L835.35,1880.3 L837.18,1876.4 L838.92,1872.4 L840.58,1868.4 L842.17,1864.3 L843.69,1860.2 L845.14,1856.1 L846.53,1852.0 L847.87,1847.8 L849.15,1843.6 L850.38,1839.3 L851.56,1835.1 L852.71,1830.8 L853.82,1826.6 L854.89,1822.3 L855.94,1818.0 L856.97,1813.7 L857.97,1809.4 L858.96,1805.0 L859.93,1800.7 L860.89,1796.4 L861.84,1792.1 L862.76,1787.8 L863.68,1783.4 L864.58,1779.1 L865.46,1774.8 L866.33,1770.4 L867.19,1766.1 L868.04,1761.7 L868.87,1757.4 L869.68,1753.0 L870.49,1748.7 L871.28,1744.3 L872.06,1740.0 L872.83,1735.6 L873.58,1731.2 L874.32,1726.9 L875.05,1722.5 L875.77,1718.1 L876.48,1713.8 L877.18,1709.4 L877.86,1705.0 L878.53,1700.6 L879.20,1696.3 L879.85,1691.9 L880.49,1687.5 L881.13,1683.1 L881.75,1678.7 L882.36,1674.3 L882.96,1669.9 L883.56,1665.5 L884.14,1661.2 L884.72,1656.8 L885.29,1652.4 L885.85,1648.0 L886.40,1643.6 L886.94,1639.1 L887.47,1634.7 L888.00,1630.3 L888.52,1625.9 L889.03,1621.5 L889.53,1617.1 L890.03,1612.7 L890.52,1608.3 L891.01,1603.9 L891.48,1599.5 L891.96,1595.0 L892.42,1590.6 L892.88,1586.2 L893.34,1581.8 L893.78,1577.4 L894.23,1573.0 L894.67,1568.5 L895.10,1564.1 L895.53,1559.7 L895.95,1555.3 L896.37,1550.8 L896.79,1546.4 L897.20,1542.0 L897.61,1537.6 L898.02,1533.1 L898.42,1528.7 L898.82,1524.3 L899.21,1519.9 L899.61,1515.4 L900.00,1511.0 L900.38,1506.6 L900.77,1502.2 L901.16,1497.7 L901.54,1493.3 L901.92,1488.9 L902.30,1484.4 L902.68,1480.0 L903.05,1475.6 L903.43,1471.2 L903.80,1466.7 L904.18,1462.3 L904.55,1457.9 L904.92,1453.5 L905.28,1449.0 L905.65,1444.6 L906.01,1440.2 L906.38,1435.8 L906.74,1431.3 L907.10,1426.9 L907.45,1422.5 L907.81,1418.1 L908.16,1413.6 L908.51,1409.2 L908.87,1404.8 L909.21,1400.3 L909.56,1395.9 L909.90,1391.5 L910.25,1387.1 L910.59,1382.6 L910.93,1378.2 L911.26,1373.8 L911.60,1369.4 L911.93,1364.9 L912.26,1360.5 L912.59,1356.1 L912.92,1351.6 L913.24,1347.2 L913.56,1342.8 L913.88,1338.4 L914.20,1333.9 L914.52,1329.5 L914.83,1325.1 L915.14,1320.6 L915.45,1316.2 L915.76,1311.8 L916.07,1307.4 L916.37,1302.9 L916.67,1298.5 L916.97,1294.1 L917.26,1289.6 L917.55,1285.2 L917.84,1280.8 L918.13,1276.3 L918.42,1271.9 L918.70,1267.5 L918.98,1263.0 L919.26,1258.6 L919.53,1254.2 L919.81,1249.7 L920.08,1245.3 L920.34,1240.9 L920.61,1236.4 L920.87,1232.0 L921.13,1227.6 L921.39,1223.1 L921.64,1218.7 L921.89,1214.3 L922.14,1209.8 L922.39,1205.4 L922.63,1201.0 L922.87,1196.5 L923.11,1192.1 L923.34,1187.6 L923.58,1183.2 L923.80,1178.8 L924.03,1174.3 L924.25,1169.9 L924.47,1165.5 L924.69,1161.0 L924.90,1156.6 L925.11,1152.1 L925.32,1147.7 L925.53,1143.2 L925.73,1138.8 L925.93,1134.4 L926.12,1129.9 L926.31,1125.5 L926.50,1121.0 L926.69,1116.6 L926.87,1112.1 L927.05,1107.7 L927.23,1103.2 L927.40,1098.8 L927.57,1094.3" stroke="#0000ff"/>
<path d="M1352.92,1094.0 L1353.04,1097.8 L1353.17,1101.6 L1353.30,1105.4 L1353.44,1109.1 L1353.59,1112.9 L1353.74,1116.7 L1353.90,1120.4 L1354.07,1124.2 L1354.24,1127.9 L1354.42,1131.7 L1354.61,1135.4 L1354.80,1139.2 L1355.00,1142.9 L1355.21,1146.7 L1355.42,1150.4 L1355.64,1154.1 L1355.86,1157.9 L1356.09,1161.6 L1356.33,1165.3 L1356.57,1169.1 L1356.82,1172.8 L1357.08,1176.5 L1357.34,1180.2 L1357.60,1184.0 L1357.87,1187.7 L1358.15,1191.4 L1358.43,1195.1 L1358.72,1198.8 L1359.01,1202.5 L1359.31,1206.3 L1359.61,1210.0 L1359.92,1213.7 L1360.24,1217.4 L1360.56,1221.1 L1360.88,1224.8 L1361.21,1228.5 L1361.54,1232.2 L1361.88,1235.9 L1362.22,1239.6 L1362.57,1243.3 L1362.92,1247.0 L1363.28,1250.7 L1363.64,1254.4 L1364.01,1258.1 L1364.38,1261.8 L1364.75,1265.4 L1365.13,1269.1 L1365.51,1272.8 L1365.90,1276.5 L1366.29,1280.2 L1366.68,1283.9 L1367.08,1287.6 L1367.48,1291.3 L1367.89,1294.9 L1368.30,1298.6 L1368.71,1302.3 L1369.13,1306.0 L1369.54,1309.7 L1369.97,1313.4 L1370.39,1317.0 L1370.82,1320.7 L1371.26,1324.4 L1371.69,1328.1 L1372.13,1331.8 L1372.57,1335.5 L1373.02,1339.1 L1373.47,1342.8 L1373.92,1346.5 L1374.37,1350.2 L1374.83,1353.9 L1375.28,1357.6 L1375.75,1361.2 L1376.21,1364.9 L1376.67,1368.6 L1377.14,1372.3 L1377.61,1376.0 L1378.09,1379.7 L1378.56,1383.4 L1379.04,1387.0 L1379.52,1390.7 L1380.00,1394.4 L1380.48,1398.1 L1380.96,1401.8 L1381.45,1405.5 L1381.94,1409.2 L1382.43,1412.9 L1382.92,1416.6 L1383.41,1420.3 L1383.91,1424.0 L1384.40,1427.7 L1384.90,1431.4 L1385.40,1435.1 L1385.89,1438.8 L1386.39,1442.5 L1386.90,1446.2 L1387.40,1449.9 L1387.90,1453.6 L1388.40,1457.3 L1388.91,1461.0 L1389.42,1464.7 L1389.93,1468.4 L1390.44,1472.1 L1390.96,1475.8 L1391.48,1479.5 L1392.01,1483.2 L1392.54,1487.0 L1393.08,1490.7 L1393.62,1494.4 L1394.17,1498.1 L1394.73,1501.8 L1395.29,1505.5 L1395.86,1509.2 L1396.44,1512.9 L1397.02,1516.6 L1397.62,1520.3 L1398.23,1524.0 L1398.84,1527.6 L1399.47,1531.3 L1400.10,1535.0 L1400.75,1538.7 L1401.41,1542.4 L1402.08,1546.0 L1402.77,1549.7 L1403.46,1553.4 L1404.18,1557.0 L1404.90,1560.7 L1405.64,1564.3 L1406.39,1567.9 L1407.16,1571.6 L1407.95,1575.2 L1408.75,1578.8 L1409.57,1582.4 L1410.40,1586.0 L1411.25,1589.6 L1412.13,1593.2 L1413.01,1596.8 L1413.92,1600.4 L1414.85,1604.0 L1415.80,1607.5 L1416.76,1611.1 L1417.75,1614.6 L1418.76,1618.2 L1419.79,1621.7 L1420.85,1625.2 L1421.92,1628.7 L1423.02,1632.2 L1424.14,1635.7 L1425.29,1639.2 L1426.46,1642.6 L1427.65,1646.1 L1428.87,1649.5 L1430.12,1653.0 L1431.39,1656.4 L1432.69,1659.8 L1434.01,1663.2 L1435.37,1666.6 L1436.75,1670.0 L1438.16,1673.4 L1439.59,1676.7 L1441.06,1680.0 L1442.56,1683.4 L1444.09,1686.7 L1445.64,1690.0 L1447.23,1693.3 L1448.85,1696.5 L1450.51,1699.8 L1452.19,1703.0 L1453.91,1706.3 L1455.67,1709.5 L1457.46,1712.6 L1459.30,1715.8 L1461.18,1718.9 L1463.12,1722.0 L1465.10,1725.0 L1467.13,1728.0 L1469.22,1730.9 L1471.37,1733.8 L1473.58,1736.6 L1475.86,1739.4 L1478.20,1742.1 L1480.61,1744.7 L1483.09,1747.2 L1485.65,1749.7 L1488.27,1752.1 L1490.95,1754.4 L1493.69,1756.6 L1496.49,1758.8 L1499.33,1760.8 L1502.23,1762.8 L1505.16,1764.8 L1508.14,1766.6 L1511.15,1768.4 L1514.19,1770.1 L1517.26,1771.8 L1520.35,1773.3 L1523.47,1774.8 L1526.61,1776.3 L1529.76,1777.6 L1532.94,1778.9 L1536.14,1780.2 L1539.35,1781.3 L1542.58,1782.5 L1545.82,1783.5 L1549.08,1784.6 L1552.35,1785.5 L1555.63,1786.5 L1558.93,1787.3 L1562.23,1788.2 L1565.54,1789.0 L1568.85,1789.7 L1572.17,1790.5 L1575.50,1791.2 L1578.83,1791.8 L1582.16,1792.4 L1585.50,1793.0 L1588.84,1793.6 L1592.19,1794.1 L1595.54,1794.6 L1598.89,1795.1 L1602.24,1795.6 L1605.60,1796.0 L1608.97,1796.4 L1612.33,1796.8 L1615.70,1797.1 L1619.07,1797.5 L1622.44,1797.8 L1625.82,1798.0 L1629.20,1798.3 L1632.58,1798.5 L1635.96,1798.8 L1639.35,1799.0 L1642.73,1799.2 L1646.12,1799.3 L1649.51,1799.5 L1652.90,1799.6 L1656.29,1799.7 L1659.68,1799.8 L1663.08,1799.9 L1666.47,1800.0 L1669.87,1800.1 L1673.27,1800.1 L1676.66,1800.2 L1680.06,1800.2 L1683.46,1800.3 L1686.85,1800.3 L1690.25,1800.3 L1693.65,1800.3 L1697.05,1800.3 L1700.44,1800.3 L1703.84,1800.3 L1707.23,1800.3 L1710.63,1800.3 L1714.02,1800.3 L1717.41,1800.2 L1720.80,1800.2 L1724.19,1800.2 L1727.58,1800.2 L1730.97,1800.2 L1734.36,1800.1 L1737.74,1800.1 L1741.13,1800.1 L1744.52,1800.1 L1747.90,1800.0 L1751.29,1800.0 L1754.67,1800.0 L1758.05,1799.9 L1761.44,1799.9 L1764.82,1799.9 L1768.20,1799.8 L1771.58,1799.8 L1774.97,1799.7 L1778.35,1799.6 L1781.73,1799.6 L1785.11,1799.5 L1788.50,1799.5 L1791.88,1799.4 L1795.26,1799.3 L1798.65,1799.2 L1802.03,1799.2 L1805.41,1799.1 L1808.80,1799.0 L1812.18,1798.9 L1815.57,1798.8 L1818.96,1798.7 L1822.34,1798.6 L1825.73,1798.5 L1829.12,1798.4 L1832.51,1798.3 L1835.90,1798.1 L1839.29,1798.0 L1842.69,1797.9 L1846.08,1797.7 L1849.47,1797.6 L1852.87,1797.4 L1856.27,1797.3 L1859.67,1797.1 L1863.07,1796.9 L1866.47,1796.8 L1869.87,1796.6" stroke="#0000ff"/>
<path d="M383.96,1829.1 L387.75,1829.4 L391.55,1829.6 L395.34,1829.9 L399.14,1830.1 L402.93,1830.4 L406.71,1830.7 L410.50,1831.0 L414.29,1831.3 L418.07,1831.6 L421.85,1831.9 L425.63,1832.3 L429.41,1832.6 L433.18,1833.0 L436.96,1833.3 L440.73,1833.7 L444.50,1834.1 L448.27,1834.5 L452.04,1834.9 L455.80,1835.3 L459.56,1835.7 L463.33,1836.1 L467.09,1836.5 L470.85,1837.0 L474.60,1837.5 L478.36,1837.9 L482.12,1838.4 L485.87,1838.9 L489.62,1839.4 L493.37,1839.9 L497.12,1840.4 L500.87,1841.0 L504.61,1841.5 L508.36,1842.1 L512.10,1842.6 L515.84,1843.2 L519.58,1843.8 L523.32,1844.4 L527.06,1845.0 L530.79,1845.7 L534.53,1846.3 L538.26,1846.9 L542.00,1847.6 L545.73,1848.3 L549.46,1849.0 L553.19,1849.7 L556.91,1850.4 L560.64,1851.1 L564.37,1851.8 L568.09,1852.6 L571.81,1853.3 L575.53,1854.1 L579.26,1854.9 L582.98,1855.7 L586.69,1856.5 L590.41,1857.3 L594.13,1858.1 L597.85,1859.0 L601.56,1859.8 L605.27,1860.7 L608.99,1861.6 L612.70,1862.5 L616.41,1863.4 L620.12,1864.3 L623.83,1865.2 L627.54,1866.2 L631.25,1867.1 L634.97,1868.0 L638.68,1868.9 L642.39,1869.8 L646.10,1870.7 L649.82,1871.6 L653.54,1872.4 L657.25,1873.3 L660.97,1874.1 L664.69,1874.9 L668.42,1875.6 L672.14,1876.4 L675.87,1877.1 L679.60,1877.7 L683.34,1878.4 L687.07,1879.0 L690.81,1879.5 L694.56,1880.0 L698.30,1880.5 L702.05,1880.9 L705.81,1881.2 L709.57,1881.5 L713.33,1881.8 L717.10,1881.9 L720.87,1882.1 L724.65,1882.1 L728.43,1882.1 L732.22,1882.0 L736.01,1881.8 L739.79,1881.6 L743.57,1881.2 L747.32,1880.7 L751.06,1880.1 L754.77,1879.4 L758.45,1878.5 L762.09,1877.5 L765.69,1876.3 L769.24,1874.9 L772.74,1873.3 L776.17,1871.6 L779.54,1869.6 L782.84,1867.5 L786.06,1865.2 L789.19,1862.8 L792.23,1860.3 L795.17,1857.6 L798.00,1854.7 L800.72,1851.8 L803.33,1848.8 L805.80,1845.6 L808.16,1842.4 L810.39,1839.1 L812.51,1835.7 L814.53,1832.2 L816.45,1828.7 L818.27,1825.1 L820.01,1821.4 L821.67,1817.7 L823.25,1814.0 L824.77,1810.1 L826.22,1806.3 L827.62,1802.4 L828.97,1798.5 L830.28,1794.6 L831.55,1790.6 L832.80,1786.7 L834.01,1782.7 L835.21,1778.7 L836.39,1774.7 L837.56,1770.7 L838.70,1766.8 L839.83,1762.8 L840.93,1758.8 L842.02,1754.8 L843.09,1750.8 L844.15,1746.7 L845.19,1742.7 L846.21,1738.7 L847.21,1734.7 L848.20,1730.7 L849.17,1726.6 L850.13,1722.6 L851.07,1718.6 L851.99,1714.5 L852.90,1710.5 L853.79,1706.4 L854.67,1702.4 L855.54,1698.3 L856.39,1694.3 L857.22,1690.2 L858.04,1686.2 L858.85,1682.1 L859.65,1678.0 L860.43,1674.0 L861.19,1669.9 L861.95,1665.8 L862.69,1661.7 L863.42,1657.7 L864.13,1653.6 L864.84,1649.5 L865.53,1645.4 L866.21,1641.3 L866.88,1637.2 L867.54,1633.1 L868.19,1629.0 L868.82,1624.9 L869.45,1620.8 L870.06,1616.7 L870.67,1612.6 L871.26,1608.5 L871.85,1604.4 L872.43,1600.3 L872.99,1596.1 L873.55,1592.0 L874.10,1587.9 L874.64,1583.8 L875.17,1579.7 L875.69,1575.5 L876.21,1571.4 L876.72,1567.3 L877.22,1563.2 L877.71,1559.0 L878.19,1554.9 L878.67,1550.8 L879.14,1546.6 L879.61,1542.5 L880.07,1538.4 L880.52,1534.2 L880.97,1530.1 L881.41,1525.9 L881.85,1521.8 L882.28,1517.7 L882.70,1513.5 L883.12,1509.4 L883.54,1505.2 L883.95,1501.1 L884.36,1496.9 L884.76,1492.8 L885.16,1488.7 L885.56,1484.5 L885.96,1480.4 L886.35,1476.2 L886.73,1472.1 L887.12,1467.9 L887.50,1463.8 L887.88,1459.6 L888.26,1455.5 L888.64,1451.3 L889.01,1447.2 L889.39,1443.0 L889.76,1438.9 L890.13,1434.8 L890.50,1430.6 L890.87,1426.5 L891.23,1422.3 L891.60,1418.2 L891.96,1414.0 L892.33,1409.9 L892.69,1405.7 L893.05,1401.6 L893.40,1397.4 L893.76,1393.3 L894.11,1389.1 L894.47,1385.0 L894.82,1380.9 L895.17,1376.7 L895.52,1372.6 L895.86,1368.4 L896.21,1364.3 L896.55,1360.1 L896.90,1356.0 L897.24,1351.8 L897.58,1347.7 L897.91,1343.5 L898.25,1339.4 L898.59,1335.2 L898.92,1331.1 L899.25,1327.0 L899.58,1322.8 L899.91,1318.7 L900.24,1314.5 L900.56,1310.4 L900.89,1306.2 L901.21,1302.1 L901.53,1297.9 L901.85,1293.8 L902.16,1289.6 L902.48,1285.5 L902.79,1281.3 L903.11,1277.2 L903.42,1273.0 L903.73,1268.9 L904.04,1264.7 L904.34,1260.6 L904.65,1256.4 L904.95,1252.3 L905.25,1248.1 L905.55,1244.0 L905.85,1239.8 L906.15,1235.7 L906.44,1231.5 L906.73,1227.4 L907.03,1223.2 L907.32,1219.1 L907.60,1214.9 L907.89,1210.8 L908.18,1206.6 L908.46,1202.5 L908.74,1198.3 L909.02,1194.2 L909.30,1190.0 L909.58,1185.9 L909.85,1181.7 L910.12,1177.6 L910.40,1173.4 L910.67,1169.2 L910.93,1165.1 L911.20,1160.9 L911.47,1156.8 L911.73,1152.6 L911.99,1148.5 L912.25,1144.3 L912.51,1140.1 L912.76,1136.0 L913.02,1131.8 L913.27,1127.7 L913.52,1123.5 L913.77,1119.3 L914.02,1115.2 L914.27,1111.0 L914.51,1106.9 L914.75,1102.7 L914.99,1098.5 L915.23,1094.4" stroke="#008000"/>
<path d="M1361.06,1094.5 L1361.28,1098.2 L1361.50,1101.9 L1361.73,1105.7 L1361.96,1109.4 L1362.19,1113.2 L1362.43,1116.9 L1362.66,1120.7 L1362.91,1124.4 L1363.15,1128.2 L1363.40,1131.9 L1363.65,1135.6 L1363.90,1139.4 L1364.16,1143.1 L1364.42,1146.9 L1364.68,1150.6 L1364.95,1154.4 L1365.22,1158.1 L1365.49,1161.9 L1365.77,1165.6 L1366.05,1169.4 L1366.33,1173.1 L1366.62,1176.8 L1366.90,1180.6 L1367.20,1184.3 L1367.49,1188.1 L1367.79,1191.8 L1368.09,1195.6 L1368.40,1199.3 L1368.70,1203.1 L1369.01,1206.8 L1369.33,1210.6 L1369.65,1214.3 L1369.97,1218.1 L1370.29,1221.8 L1370.62,1225.5 L1370.95,1229.3 L1371.28,1233.0 L1371.62,1236.8 L1371.96,1240.5 L1372.30,1244.3 L1372.65,1248.0 L1373.00,1251.8 L1373.35,1255.5 L1373.71,1259.2 L1374.07,1263.0 L1374.43,1266.7 L1374.80,1270.5 L1375.17,1274.2 L1375.54,1278.0 L1375.92,1281.7 L1376.30,1285.4 L1376.68,1289.2 L1377.07,1292.9 L1377.46,1296.7 L1377.85,1300.4 L1378.25,1304.1 L1378.65,1307.9 L1379.06,1311.6 L1379.46,1315.4 L1379.87,1319.1 L1380.29,1322.8 L1380.70,1326.6 L1381.12,1330.3 L1381.55,1334.0 L1381.97,1337.8 L1382.40,1341.5 L1382.84,1345.2 L1383.28,1349.0 L1383.72,1352.7 L1384.16,1356.4 L1384.61,1360.2 L1385.06,1363.9 L1385.51,1367.6 L1385.97,1371.3 L1386.43,1375.1 L1386.90,1378.8 L1387.37,1382.5 L1387.84,1386.2 L1388.32,1390.0 L1388.79,1393.7 L1389.28,1397.4 L1389.76,1401.1 L1390.25,1404.8 L1390.74,1408.6 L1391.24,1412.3 L1391.74,1416.0 L1392.24,1419.7 L1392.75,1423.4 L1393.26,1427.1 L1393.78,1430.9 L1394.29,1434.6 L1394.81,1438.3 L1395.34,1442.0 L1395.87,1445.7 L1396.40,1449.4 L1396.93,1453.1 L1397.47,1456.8 L1398.02,1460.5 L1398.56,1464.2 L1399.11,1467.9 L1399.67,1471.6 L1400.23,1475.3 L1400.79,1479.0 L1401.36,1482.7 L1401.93,1486.4 L1402.51,1490.1 L1403.09,1493.8 L1403.67,1497.5 L1404.26,1501.2 L1404.86,1504.9 L1405.46,1508.6 L1406.07,1512.2 L1406.68,1515.9 L1407.30,1519.6 L1407.92,1523.3 L1408.55,1527.0 L1409.18,1530.7 L1409.82,1534.4 L1410.47,1538.1 L1411.12,1541.7 L1411.77,1545.4 L1412.44,1549.1 L1413.11,1552.8 L1413.79,1556.5 L1414.47,1560.2 L1415.16,1563.8 L1415.85,1567.5 L1416.56,1571.2 L1417.27,1574.9 L1417.99,1578.6 L1418.71,1582.2 L1419.44,1585.9 L1420.18,1589.6 L1420.93,1593.3 L1421.68,1597.0 L1422.44,1600.6 L1423.21,1604.3 L1423.99,1608.0 L1424.78,1611.7 L1425.58,1615.3 L1426.39,1619.0 L1427.21,1622.7 L1428.05,1626.4 L1428.90,1630.0 L1429.77,1633.7 L1430.66,1637.3 L1431.57,1641.0 L1432.51,1644.6 L1433.46,1648.2 L1434.44,1651.9 L1435.45,1655.5 L1436.48,1659.1 L1437.54,1662.7 L1438.64,1666.2 L1439.76,1669.8 L1440.92,1673.4 L1442.11,1676.9 L1443.33,1680.4 L1444.59,1683.9 L1445.90,1687.4 L1447.24,1690.9 L1448.62,1694.3 L1450.04,1697.8 L1451.51,1701.2 L1453.03,1704.6 L1454.59,1708.0 L1456.19,1711.3 L1457.84,1714.7 L1459.54,1718.0 L1461.28,1721.2 L1463.06,1724.5 L1464.89,1727.7 L1466.77,1730.9 L1468.69,1734.0 L1470.65,1737.1 L1472.66,1740.2 L1474.72,1743.2 L1476.81,1746.2 L1478.96,1749.1 L1481.15,1752.0 L1483.38,1754.9 L1485.65,1757.6 L1487.97,1760.4 L1490.34,1763.1 L1492.74,1765.7 L1495.20,1768.3 L1497.69,1770.8 L1500.23,1773.2 L1502.81,1775.6 L1505.44,1777.9 L1508.11,1780.2 L1510.82,1782.4 L1513.58,1784.5 L1516.38,1786.6 L1519.22,1788.5 L1522.09,1790.5 L1525.01,1792.3 L1527.96,1794.1 L1530.95,1795.8 L1533.97,1797.4 L1537.03,1799.0 L1540.11,1800.5 L1543.22,1801.9 L1546.36,1803.3 L1549.52,1804.6 L1552.71,1805.8 L1555.92,1807.0 L1559.15,1808.1 L1562.41,1809.1 L1565.67,1810.1 L1568.96,1811.0 L1572.26,1811.8 L1575.58,1812.6 L1578.90,1813.3 L1582.25,1814.0 L1585.60,1814.6 L1588.97,1815.1 L1592.35,1815.6 L1595.74,1816.1 L1599.14,1816.5 L1602.55,1816.9 L1605.96,1817.2 L1609.39,1817.5 L1612.82,1817.7 L1616.27,1817.9 L1619.71,1818.0 L1623.17,1818.2 L1626.63,1818.2 L1630.09,1818.3 L1633.56,1818.3 L1637.03,1818.3 L1640.51,1818.3 L1643.98,1818.3 L1647.46,1818.2 L1650.94,1818.1 L1654.42,1818.0 L1657.90,1817.9 L1661.38,1817.7 L1664.86,1817.6 L1668.34,1817.4 L1671.81,1817.2 L1675.28,1817.1 L1678.75,1816.9 L1682.21,1816.7 L1685.66,1816.5 L1689.12,1816.3 L1692.56,1816.2 L1696.00,1816.0 L1699.43,1815.8 L1702.86,1815.7 L1706.28,1815.5 L1709.70,1815.3 L1713.11,1815.2 L1716.52,1815.0 L1719.93,1814.9 L1723.33,1814.7 L1726.72,1814.6 L1730.12,1814.4 L1733.51,1814.3 L1736.90,1814.1 L1740.28,1814.0 L1743.67,1813.9 L1747.05,1813.7 L1750.43,1813.6 L1753.81,1813.5 L1757.19,1813.4 L1760.57,1813.3 L1763.94,1813.2 L1767.32,1813.0 L1770.70,1812.9 L1774.08,1812.8 L1777.45,1812.7 L1780.83,1812.6 L1784.22,1812.5 L1787.60,1812.5 L1790.98,1812.4 L1794.37,1812.3 L1797.76,1812.2 L1801.15,1812.1 L1804.55,1812.1 L1807.95,1812.0 L1811.35,1811.9 L1814.75,1811.8 L1818.17,1811.8 L1821.58,1811.7 L1825.00,1811.7 L1828.42,1811.6 L1831.85,1811.6 L1835.29,1811.5 L1838.73,1811.5 L1842.18,1811.4 L1845.63,1811.4 L1849.09,1811.4 L1852.56,1811.3 L1856.04,1811.3 L1859.52,1811.3 L1863.01,1811.3 L1866.51,1811.3 L1870.02,1811.2" stroke="#008000"/>
<path d="M383.97,1804.2 L387.11,1803.8 L390.25,1803.4 L393.38,1803.0 L396.51,1802.6 L399.64,1802.2 L402.77,1801.8 L405.89,1801.4 L409.02,1801.0 L412.14,1800.6 L415.26,1800.2 L418.37,1799.8 L421.49,1799.4 L424.61,1799.0 L427.72,1798.6 L430.83,1798.2 L433.94,1797.8 L437.05,1797.4 L440.16,1797.0 L443.26,1796.6 L446.37,1796.2 L449.47,1795.7 L452.58,1795.3 L455.68,1794.9 L458.78,1794.5 L461.88,1794.0 L464.98,1793.6 L468.08,1793.2 L471.18,1792.7 L474.27,1792.3 L477.37,1791.8 L480.47,1791.3 L483.56,1790.9 L486.66,1790.4 L489.75,1789.9 L492.85,1789.4 L495.94,1788.9 L499.03,1788.4 L502.13,1787.9 L505.22,1787.4 L508.31,1786.9 L511.41,1786.3 L514.50,1785.8 L517.59,1785.2 L520.69,1784.7 L523.78,1784.1 L526.87,1783.5 L529.97,1783.0 L533.06,1782.4 L536.16,1781.8 L539.25,1781.1 L542.34,1780.5 L545.43,1779.9 L548.52,1779.2 L551.61,1778.5 L554.70,1777.9 L557.78,1777.2 L560.86,1776.5 L563.94,1775.7 L567.02,1775.0 L570.09,1774.2 L573.16,1773.5 L576.22,1772.7 L579.28,1771.9 L582.33,1771.0 L585.38,1770.2 L588.42,1769.3 L591.46,1768.4 L594.49,1767.5 L597.52,1766.6 L600.54,1765.6 L603.55,1764.7 L606.56,1763.7 L609.56,1762.6 L612.55,1761.6 L615.53,1760.5 L618.50,1759.4 L621.47,1758.3 L624.42,1757.2 L627.37,1756.0 L630.30,1754.8 L633.23,1753.6 L636.15,1752.3 L639.06,1751.0 L641.95,1749.7 L644.84,1748.4 L647.71,1747.0 L650.57,1745.6 L653.42,1744.2 L656.25,1742.7 L659.07,1741.2 L661.87,1739.7 L664.66,1738.1 L667.43,1736.5 L670.17,1734.9 L672.90,1733.2 L675.61,1731.5 L678.30,1729.7 L680.97,1728.0 L683.61,1726.1 L686.23,1724.3 L688.83,1722.4 L691.39,1720.4 L693.94,1718.5 L696.45,1716.5 L698.94,1714.4 L701.40,1712.3 L703.82,1710.2 L706.22,1708.0 L708.59,1705.7 L710.93,1703.5 L713.24,1701.2 L715.52,1698.8 L717.78,1696.5 L720.01,1694.1 L722.20,1691.6 L724.38,1689.2 L726.52,1686.7 L728.64,1684.1 L730.73,1681.6 L732.80,1679.0 L734.84,1676.4 L736.86,1673.7 L738.85,1671.1 L740.81,1668.4 L742.75,1665.7 L744.67,1663.0 L746.56,1660.2 L748.43,1657.5 L750.27,1654.7 L752.10,1651.9 L753.90,1649.0 L755.67,1646.2 L757.43,1643.3 L759.16,1640.5 L760.87,1637.6 L762.56,1634.6 L764.23,1631.7 L765.88,1628.8 L767.51,1625.8 L769.12,1622.8 L770.71,1619.9 L772.28,1616.9 L773.83,1613.8 L775.37,1610.8 L776.88,1607.8 L778.38,1604.7 L779.86,1601.7 L781.32,1598.6 L782.77,1595.5 L784.19,1592.4 L785.61,1589.3 L787.00,1586.2 L788.38,1583.1 L789.75,1580.0 L791.10,1576.9 L792.43,1573.7 L793.75,1570.6 L795.06,1567.4 L796.35,1564.3 L797.63,1561.1 L798.90,1558.0 L800.15,1554.8 L801.39,1551.6 L802.61,1548.5 L803.82,1545.3 L805.02,1542.1 L806.20,1538.9 L807.38,1535.7 L808.53,1532.5 L809.68,1529.3 L810.81,1526.1 L811.93,1522.9 L813.04,1519.7 L814.14,1516.4 L815.22,1513.2 L816.29,1510.0 L817.35,1506.7 L818.40,1503.5 L819.43,1500.2 L820.46,1497.0 L821.47,1493.7 L822.47,1490.5 L823.46,1487.2 L824.44,1484.0 L825.40,1480.7 L826.36,1477.4 L827.30,1474.1 L828.23,1470.9 L829.15,1467.6 L830.07,1464.3 L830.97,1461.0 L831.86,1457.7 L832.74,1454.4 L833.60,1451.1 L834.46,1447.8 L835.31,1444.5 L836.15,1441.2 L836.98,1437.9 L837.80,1434.5 L838.61,1431.2 L839.41,1427.9 L840.20,1424.6 L840.98,1421.2 L841.75,1417.9 L842.51,1414.6 L843.26,1411.2 L844.01,1407.9 L844.74,1404.5 L845.47,1401.2 L846.18,1397.8 L846.89,1394.5 L847.59,1391.1 L848.28,1387.8 L848.97,1384.4 L849.64,1381.0 L850.31,1377.7 L850.97,1374.3 L851.62,1370.9 L852.26,1367.6 L852.90,1364.2 L853.53,1360.8 L854.15,1357.4 L854.76,1354.0 L855.37,1350.7 L855.96,1347.3 L856.56,1343.9 L857.14,1340.5 L857.72,1337.1 L858.29,1333.7 L858.85,1330.3 L859.41,1326.9 L859.96,1323.5 L860.51,1320.1 L861.05,1316.7 L861.58,1313.3 L862.10,1309.9 L862.62,1306.5 L863.14,1303.1 L863.65,1299.7 L864.15,1296.3 L864.65,1292.9 L865.14,1289.4 L865.63,1286.0 L866.11,1282.6 L866.58,1279.2 L867.06,1275.8 L867.52,1272.4 L867.98,1269.0 L868.44,1265.5 L868.89,1262.1 L869.34,1258.7 L869.78,1255.3 L870.22,1251.9 L870.66,1248.4 L871.09,1245.0 L871.51,1241.6 L871.94,1238.2 L872.35,1234.7 L872.77,1231.3 L873.18,1227.9 L873.59,1224.5 L873.99,1221.0 L874.39,1217.6 L874.79,1214.2 L875.19,1210.8 L875.58,1207.3 L875.97,1203.9 L876.35,1200.5 L876.74,1197.1 L877.12,1193.6 L877.50,1190.2 L877.87,1186.8 L878.25,1183.4 L878.62,1180.0 L878.99,1176.5 L879.35,1173.1 L879.72,1169.7 L880.08,1166.3 L880.45,1162.8 L880.81,1159.4 L881.17,1156.0 L881.52,1152.6 L881.88,1149.2 L882.24,1145.8 L882.59,1142.3 L882.94,1138.9 L883.30,1135.5 L883.65,1132.1 L884.00,1128.7 L884.35,1125.3 L884.70,1121.9 L885.05,1118.5 L885.40,1115.1 L885.75,1111.7 L886.10,1108.3 L886.45,1104.9 L886.80,1101.5 L887.15,1098.1 L887.50,1094.7" stroke="#000000"/>
<path d="M1369.55,1094.3 L1369.83,1097.7 L1370.11,1101.2 L1370.39,1104.6 L1370.68,1108.0 L1370.97,1111.5 L1371.27,1114.9 L1371.56,1118.4 L1371.86,1121.8 L1372.17,1125.2 L1372.47,1128.6 L1372.78,1132.1 L1373.09,1135.5 L1373.41,1138.9 L1373.73,1142.4 L1374.05,1145.8 L1374.37,1149.2 L1374.70,1152.6 L1375.04,1156.1 L1375.37,1159.5 L1375.71,1162.9 L1376.06,1166.3 L1376.40,1169.8 L1376.75,1173.2 L1377.11,1176.6 L1377.47,1180.0 L1377.83,1183.4 L1378.20,1186.9 L1378.57,1190.3 L1378.94,1193.7 L1379.32,1197.1 L1379.70,1200.5 L1380.09,1203.9 L1380.48,1207.3 L1380.88,1210.7 L1381.28,1214.2 L1381.68,1217.6 L1382.09,1221.0 L1382.50,1224.4 L1382.92,1227.8 L1383.35,1231.2 L1383.77,1234.6 L1384.20,1238.0 L1384.64,1241.4 L1385.08,1244.8 L1385.53,1248.2 L1385.98,1251.6 L1386.44,1255.0 L1386.90,1258.4 L1387.37,1261.8 L1387.84,1265.2 L1388.32,1268.5 L1388.80,1271.9 L1389.29,1275.3 L1389.78,1278.7 L1390.28,1282.1 L1390.78,1285.5 L1391.29,1288.9 L1391.80,1292.3 L1392.32,1295.6 L1392.85,1299.0 L1393.38,1302.4 L1393.92,1305.8 L1394.46,1309.1 L1395.01,1312.5 L1395.57,1315.9 L1396.13,1319.3 L1396.69,1322.6 L1397.27,1326.0 L1397.85,1329.4 L1398.43,1332.7 L1399.02,1336.1 L1399.62,1339.5 L1400.22,1342.8 L1400.84,1346.2 L1401.45,1349.6 L1402.07,1352.9 L1402.70,1356.3 L1403.34,1359.6 L1403.98,1363.0 L1404.63,1366.3 L1405.29,1369.7 L1405.95,1373.0 L1406.62,1376.4 L1407.30,1379.7 L1407.98,1383.1 L1408.67,1386.4 L1409.37,1389.8 L1410.08,1393.1 L1410.79,1396.5 L1411.51,1399.8 L1412.23,1403.1 L1412.97,1406.5 L1413.71,1409.8 L1414.45,1413.1 L1415.21,1416.5 L1415.97,1419.8 L1416.74,1423.1 L1417.52,1426.4 L1418.31,1429.8 L1419.10,1433.1 L1419.90,1436.4 L1420.71,1439.7 L1421.53,1443.1 L1422.35,1446.4 L1423.18,1449.7 L1424.02,1453.0 L1424.87,1456.3 L1425.73,1459.6 L1426.59,1462.9 L1427.47,1466.2 L1428.35,1469.5 L1429.25,1472.8 L1430.15,1476.1 L1431.06,1479.4 L1431.98,1482.7 L1432.92,1486.0 L1433.86,1489.3 L1434.82,1492.6 L1435.78,1495.8 L1436.76,1499.1 L1437.75,1502.4 L1438.75,1505.7 L1439.76,1508.9 L1440.78,1512.2 L1441.82,1515.4 L1442.87,1518.7 L1443.93,1521.9 L1445.00,1525.2 L1446.09,1528.4 L1447.20,1531.6 L1448.31,1534.9 L1449.44,1538.1 L1450.59,1541.3 L1451.74,1544.5 L1452.92,1547.7 L1454.11,1550.9 L1455.31,1554.1 L1456.53,1557.3 L1457.77,1560.4 L1459.02,1563.6 L1460.28,1566.8 L1461.57,1569.9 L1462.87,1573.1 L1464.19,1576.2 L1465.52,1579.4 L1466.87,1582.5 L1468.24,1585.6 L1469.63,1588.7 L1471.03,1591.8 L1472.46,1594.9 L1473.90,1598.0 L1475.36,1601.1 L1476.84,1604.2 L1478.34,1607.2 L1479.86,1610.2 L1481.40,1613.3 L1482.96,1616.3 L1484.54,1619.3 L1486.14,1622.3 L1487.76,1625.3 L1489.41,1628.2 L1491.07,1631.1 L1492.76,1634.1 L1494.47,1637.0 L1496.20,1639.8 L1497.95,1642.7 L1499.73,1645.5 L1501.53,1648.3 L1503.36,1651.1 L1505.21,1653.9 L1507.08,1656.6 L1508.98,1659.3 L1510.90,1662.0 L1512.85,1664.7 L1514.82,1667.3 L1516.82,1669.9 L1518.85,1672.5 L1520.90,1675.1 L1522.97,1677.6 L1525.08,1680.1 L1527.21,1682.5 L1529.37,1684.9 L1531.55,1687.3 L1533.76,1689.7 L1536.00,1692.0 L1538.27,1694.3 L1540.56,1696.5 L1542.87,1698.7 L1545.21,1700.9 L1547.57,1703.1 L1549.96,1705.2 L1552.37,1707.3 L1554.81,1709.4 L1557.26,1711.4 L1559.74,1713.4 L1562.24,1715.4 L1564.76,1717.3 L1567.31,1719.2 L1569.87,1721.1 L1572.45,1723.0 L1575.05,1724.8 L1577.68,1726.6 L1580.32,1728.4 L1582.98,1730.1 L1585.66,1731.8 L1588.35,1733.5 L1591.06,1735.2 L1593.79,1736.8 L1596.54,1738.4 L1599.30,1740.0 L1602.08,1741.5 L1604.87,1743.0 L1607.68,1744.5 L1610.50,1746.0 L1613.34,1747.5 L1616.19,1748.9 L1619.05,1750.3 L1621.93,1751.6 L1624.82,1753.0 L1627.72,1754.3 L1630.63,1755.6 L1633.55,1756.9 L1636.48,1758.1 L1639.43,1759.4 L1642.38,1760.6 L1645.35,1761.7 L1648.32,1762.9 L1651.30,1764.0 L1654.29,1765.1 L1657.29,1766.2 L1660.29,1767.3 L1663.30,1768.4 L1666.32,1769.4 L1669.35,1770.4 L1672.38,1771.4 L1675.42,1772.3 L1678.46,1773.3 L1681.50,1774.2 L1684.55,1775.1 L1687.61,1776.0 L1690.66,1776.9 L1693.73,1777.7 L1696.79,1778.5 L1699.85,1779.3 L1702.92,1780.1 L1705.99,1780.9 L1709.06,1781.7 L1712.13,1782.4 L1715.20,1783.1 L1718.27,1783.8 L1721.35,1784.5 L1724.42,1785.2 L1727.50,1785.8 L1730.58,1786.5 L1733.65,1787.1 L1736.73,1787.7 L1739.81,1788.3 L1742.89,1788.9 L1745.98,1789.5 L1749.06,1790.0 L1752.14,1790.6 L1755.22,1791.1 L1758.31,1791.6 L1761.39,1792.2 L1764.48,1792.7 L1767.56,1793.1 L1770.65,1793.6 L1773.74,1794.1 L1776.83,1794.6 L1779.91,1795.0 L1783.00,1795.5 L1786.09,1795.9 L1789.18,1796.3 L1792.27,1796.7 L1795.36,1797.1 L1798.45,1797.6 L1801.54,1798.0 L1804.63,1798.3 L1807.72,1798.7 L1810.81,1799.1 L1813.90,1799.5 L1816.99,1799.9 L1820.08,1800.2 L1823.18,1800.6 L1826.27,1801.0 L1829.36,1801.3 L1832.45,1801.7 L1835.54,1802.0 L1838.63,1802.4 L1841.72,1802.7 L1844.81,1803.1 L1847.90,1803.4 L1850.99,1803.8 L1854.08,1804.1 L1857.17,1804.5 L1860.25,1804.8 L1863.34,1805.2 L1866.43,1805.6 L1869.52,1805.9" stroke="#000000"/>
</g></g>
<text class="san" transform="translate(396.3,1132.0) scale(0.940,1)" font-size="92" text-anchor="end" fill="#000" stroke="#000" stroke-width="2.4" stroke-linejoin="round">0.20</text>
<text class="san" transform="translate(396.3,1308.6) scale(0.940,1)" font-size="92" text-anchor="end" fill="#000" stroke="#000" stroke-width="2.4" stroke-linejoin="round">0.15</text>
<rect x="303.7" y="1297.7" width="17.1" height="13.4" fill="#fff"/>
<rect x="331.3" y="1297.7" width="16.3" height="13.4" fill="#fff"/>
<text class="san" transform="translate(396.3,1485.2) scale(0.940,1)" font-size="92" text-anchor="end" fill="#000" stroke="#000" stroke-width="2.4" stroke-linejoin="round">0.10</text>
<rect x="303.7" y="1474.3" width="17.1" height="13.4" fill="#fff"/>
<rect x="331.3" y="1474.3" width="16.3" height="13.4" fill="#fff"/>
<text class="san" transform="translate(396.3,1661.8) scale(0.940,1)" font-size="92" text-anchor="end" fill="#000" stroke="#000" stroke-width="2.4" stroke-linejoin="round">0.05</text>
<text class="san" transform="translate(396.3,1838.4) scale(0.940,1)" font-size="92" text-anchor="end" fill="#000" stroke="#000" stroke-width="2.4" stroke-linejoin="round">0.00</text>
<text class="san" transform="translate(396.3,2015.0) scale(0.940,1)" font-size="92" text-anchor="end" fill="#000" stroke="#000" stroke-width="2.4" stroke-linejoin="round"><tspan stroke="none" dy="-3.5">−</tspan><tspan dy="3.5">0.05</tspan></text>
<text class="san" transform="translate(396.3,2191.6) scale(0.940,1)" font-size="92" text-anchor="end" fill="#000" stroke="#000" stroke-width="2.4" stroke-linejoin="round"><tspan stroke="none" dy="-3.5">−</tspan><tspan dy="3.5">0.10</tspan></text>
<rect x="303.7" y="2180.7" width="17.1" height="13.4" fill="#fff"/>
<rect x="331.3" y="2180.7" width="16.3" height="13.4" fill="#fff"/>
<text class="san" transform="translate(431.1,2346.4) scale(0.940,1)" font-size="92" text-anchor="middle" fill="#000" stroke="#000" stroke-width="2.4" stroke-linejoin="round"><tspan stroke="none" dy="-3.5">−</tspan><tspan dy="3.5">4</tspan></text>
<text class="san" transform="translate(633.3,2346.4) scale(0.940,1)" font-size="92" text-anchor="middle" fill="#000" stroke="#000" stroke-width="2.4" stroke-linejoin="round"><tspan stroke="none" dy="-3.5">−</tspan><tspan dy="3.5">3</tspan></text>
<text class="san" transform="translate(835.5,2346.4) scale(0.940,1)" font-size="92" text-anchor="middle" fill="#000" stroke="#000" stroke-width="2.4" stroke-linejoin="round"><tspan stroke="none" dy="-3.5">−</tspan><tspan dy="3.5">2</tspan></text>
<text class="san" transform="translate(1037.7,2346.4) scale(0.940,1)" font-size="92" text-anchor="middle" fill="#000" stroke="#000" stroke-width="2.4" stroke-linejoin="round"><tspan stroke="none" dy="-3.5">−</tspan><tspan dy="3.5">1</tspan></text>
<rect x="1042.5" y="2335.5" width="17.1" height="13.4" fill="#fff"/>
<rect x="1070.1" y="2335.5" width="16.3" height="13.4" fill="#fff"/>
<text class="san" transform="translate(1241.8,2346.4) scale(0.970,1)" font-size="92" text-anchor="middle" fill="#000" stroke="#000" stroke-width="2.4" stroke-linejoin="round">0</text>
<text class="san" transform="translate(1444.0,2346.4) scale(0.970,1)" font-size="92" text-anchor="middle" fill="#000" stroke="#000" stroke-width="2.4" stroke-linejoin="round">1</text>
<rect x="1423.0" y="2335.5" width="17.6" height="13.4" fill="#fff"/>
<rect x="1451.4" y="2335.5" width="16.8" height="13.4" fill="#fff"/>
<text class="san" transform="translate(1646.2,2346.4) scale(0.970,1)" font-size="92" text-anchor="middle" fill="#000" stroke="#000" stroke-width="2.4" stroke-linejoin="round">2</text>
<text class="san" transform="translate(1848.4,2346.4) scale(0.970,1)" font-size="92" text-anchor="middle" fill="#000" stroke="#000" stroke-width="2.4" stroke-linejoin="round">3</text>
<text class="san" transform="translate(2050.6,2346.4) scale(0.970,1)" font-size="92" text-anchor="middle" fill="#000" stroke="#000" stroke-width="2.4" stroke-linejoin="round">4</text>
<text class="ser" transform="translate(475.6,1233.3) scale(1.045,1)" font-size="116" fill="#000">(b)</text>
<text class="ser" x="673" y="2462.6" font-size="85.5" fill="#000" style="white-space:pre">Distance along Z-axis  (Å)</text>
<text class="ser" transform="translate(97.9,1780.5) rotate(-90) scale(1,1.04)" font-size="86" letter-spacing="0.9" word-spacing="5" fill="#000">ESP (au)</text>
<line x1="1733" y1="1178.3" x2="1848" y2="1178.3" stroke="#000000" stroke-width="9.6" stroke-linecap="round"/>
<text class="ser" x="1862" y="1195.5" font-size="53" fill="#000">MnPc</text>
<line x1="1733" y1="1244.6" x2="1848" y2="1244.6" stroke="#ff0000" stroke-width="9.6" stroke-linecap="round"/>
<text class="ser" x="1862" y="1261.3" font-size="53" fill="#000">NH<tspan font-size="33" dy="15">3</tspan></text>
<line x1="1733" y1="1322.9" x2="1848" y2="1322.9" stroke="#0000ff" stroke-width="9.6" stroke-linecap="round"/>
<text class="ser" x="1862" y="1340.4" font-size="53" fill="#000">PH<tspan font-size="33" dy="15">3</tspan></text>
<line x1="1733" y1="1402.7" x2="1848" y2="1402.7" stroke="#008000" stroke-width="9.6" stroke-linecap="round"/>
<text class="ser" x="1862" y="1419.9" font-size="53" fill="#000">AsH<tspan font-size="33" dy="15">3</tspan></text>
</g>
</g>
</svg></body></html>
